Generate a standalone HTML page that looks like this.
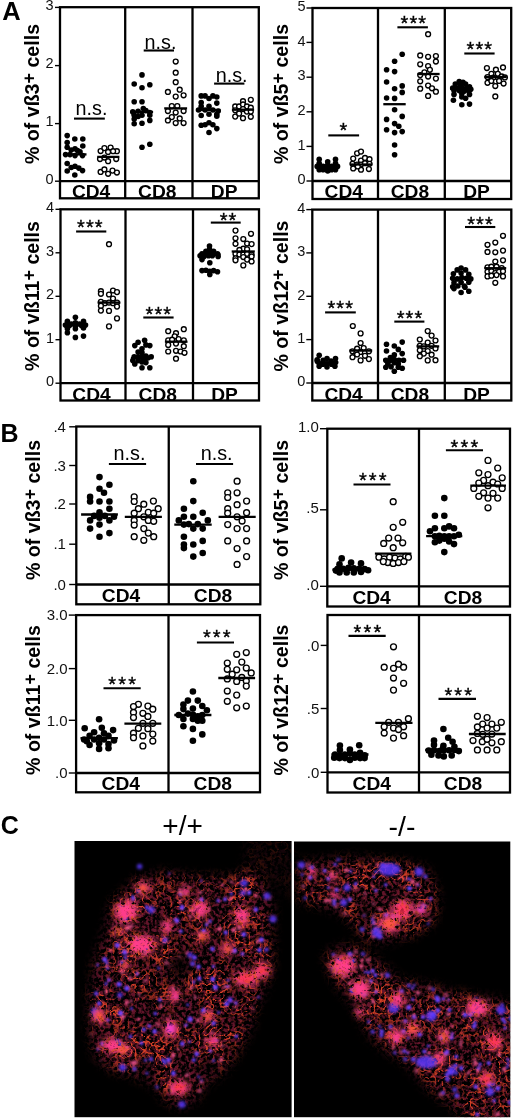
<!DOCTYPE html><html><head><meta charset="utf-8"><style>html,body{margin:0;padding:0;background:#fff;overflow:hidden}svg{display:block;will-change:transform}</style></head><body><svg width="520" height="1119" viewBox="0 0 520 1119" font-family='"Liberation Sans", sans-serif'>
<rect width="520" height="1119" fill="#fff"/>
<circle cx="67.2" cy="135.6" r="2.8"/>
<circle cx="74.8" cy="139.0" r="2.8"/>
<circle cx="82.8" cy="139.0" r="2.8"/>
<circle cx="67.2" cy="142.5" r="2.8"/>
<circle cx="82.8" cy="146.0" r="2.8"/>
<circle cx="67.2" cy="147.2" r="2.8"/>
<circle cx="75.0" cy="148.8" r="2.8"/>
<circle cx="71.2" cy="150.0" r="2.8"/>
<circle cx="77.5" cy="150.6" r="2.8"/>
<circle cx="80.0" cy="151.9" r="2.8"/>
<circle cx="65.6" cy="154.6" r="2.8"/>
<circle cx="70.0" cy="154.6" r="2.8"/>
<circle cx="75.0" cy="155.6" r="2.8"/>
<circle cx="82.5" cy="155.6" r="2.8"/>
<circle cx="67.2" cy="163.5" r="2.8"/>
<circle cx="71.2" cy="167.5" r="2.8"/>
<circle cx="75.0" cy="166.2" r="2.8"/>
<circle cx="78.8" cy="168.1" r="2.8"/>
<circle cx="82.5" cy="170.6" r="2.8"/>
<circle cx="67.2" cy="171.0" r="2.8"/>
<circle cx="74.8" cy="175.0" r="2.8"/>
<line x1="63.5" y1="154.4" x2="86.5" y2="154.4" stroke="#000" stroke-width="2.3"/>
<circle cx="100.6" cy="151.0" r="2.45" fill="#fff" stroke="#000" stroke-width="1.35"/>
<circle cx="104.4" cy="148.1" r="2.45" fill="#fff" stroke="#000" stroke-width="1.35"/>
<circle cx="110.6" cy="147.5" r="2.45" fill="#fff" stroke="#000" stroke-width="1.35"/>
<circle cx="116.9" cy="151.2" r="2.45" fill="#fff" stroke="#000" stroke-width="1.35"/>
<circle cx="108.1" cy="151.9" r="2.45" fill="#fff" stroke="#000" stroke-width="1.35"/>
<circle cx="113.1" cy="151.2" r="2.45" fill="#fff" stroke="#000" stroke-width="1.35"/>
<circle cx="100.0" cy="159.0" r="2.45" fill="#fff" stroke="#000" stroke-width="1.35"/>
<circle cx="108.1" cy="161.2" r="2.45" fill="#fff" stroke="#000" stroke-width="1.35"/>
<circle cx="116.2" cy="159.0" r="2.45" fill="#fff" stroke="#000" stroke-width="1.35"/>
<circle cx="104.4" cy="157.5" r="2.45" fill="#fff" stroke="#000" stroke-width="1.35"/>
<circle cx="100.6" cy="171.9" r="2.45" fill="#fff" stroke="#000" stroke-width="1.35"/>
<circle cx="104.4" cy="169.4" r="2.45" fill="#fff" stroke="#000" stroke-width="1.35"/>
<circle cx="108.1" cy="173.8" r="2.45" fill="#fff" stroke="#000" stroke-width="1.35"/>
<circle cx="112.5" cy="170.6" r="2.45" fill="#fff" stroke="#000" stroke-width="1.35"/>
<circle cx="116.9" cy="172.5" r="2.45" fill="#fff" stroke="#000" stroke-width="1.35"/>
<line x1="97.2" y1="156.9" x2="119.4" y2="156.9" stroke="#000" stroke-width="2.3"/>
<circle cx="142.0" cy="74.9" r="2.8"/>
<circle cx="134.2" cy="84.0" r="2.8"/>
<circle cx="149.8" cy="84.8" r="2.8"/>
<circle cx="142.0" cy="87.7" r="2.8"/>
<circle cx="134.2" cy="101.8" r="2.8"/>
<circle cx="142.0" cy="101.8" r="2.8"/>
<circle cx="143.3" cy="108.6" r="2.8"/>
<circle cx="132.8" cy="111.9" r="2.8"/>
<circle cx="138.1" cy="111.2" r="2.8"/>
<circle cx="149.8" cy="112.5" r="2.8"/>
<circle cx="134.2" cy="115.2" r="2.8"/>
<circle cx="142.0" cy="115.2" r="2.8"/>
<circle cx="149.8" cy="115.2" r="2.8"/>
<circle cx="134.2" cy="119.1" r="2.8"/>
<circle cx="149.8" cy="120.4" r="2.8"/>
<circle cx="134.2" cy="123.7" r="2.8"/>
<circle cx="142.0" cy="123.3" r="2.8"/>
<circle cx="142.0" cy="147.2" r="2.8"/>
<circle cx="149.8" cy="144.3" r="2.8"/>
<circle cx="145.9" cy="110.6" r="2.8"/>
<circle cx="138.1" cy="116.5" r="2.8"/>
<line x1="130.2" y1="111.9" x2="153.1" y2="111.9" stroke="#000" stroke-width="2.3"/>
<circle cx="175.7" cy="61.5" r="2.45" fill="#fff" stroke="#000" stroke-width="1.35"/>
<circle cx="175.7" cy="72.7" r="2.45" fill="#fff" stroke="#000" stroke-width="1.35"/>
<circle cx="175.7" cy="82.2" r="2.45" fill="#fff" stroke="#000" stroke-width="1.35"/>
<circle cx="167.9" cy="91.9" r="2.45" fill="#fff" stroke="#000" stroke-width="1.35"/>
<circle cx="179.7" cy="89.7" r="2.45" fill="#fff" stroke="#000" stroke-width="1.35"/>
<circle cx="183.6" cy="95.3" r="2.45" fill="#fff" stroke="#000" stroke-width="1.35"/>
<circle cx="175.7" cy="96.6" r="2.45" fill="#fff" stroke="#000" stroke-width="1.35"/>
<circle cx="171.8" cy="106.0" r="2.45" fill="#fff" stroke="#000" stroke-width="1.35"/>
<circle cx="177.3" cy="106.0" r="2.45" fill="#fff" stroke="#000" stroke-width="1.35"/>
<circle cx="167.9" cy="111.0" r="2.45" fill="#fff" stroke="#000" stroke-width="1.35"/>
<circle cx="175.7" cy="112.5" r="2.45" fill="#fff" stroke="#000" stroke-width="1.35"/>
<circle cx="183.6" cy="111.0" r="2.45" fill="#fff" stroke="#000" stroke-width="1.35"/>
<circle cx="171.8" cy="117.1" r="2.45" fill="#fff" stroke="#000" stroke-width="1.35"/>
<circle cx="179.7" cy="118.4" r="2.45" fill="#fff" stroke="#000" stroke-width="1.35"/>
<circle cx="167.9" cy="120.4" r="2.45" fill="#fff" stroke="#000" stroke-width="1.35"/>
<circle cx="175.7" cy="123.0" r="2.45" fill="#fff" stroke="#000" stroke-width="1.35"/>
<circle cx="183.6" cy="123.0" r="2.45" fill="#fff" stroke="#000" stroke-width="1.35"/>
<line x1="164.2" y1="108.4" x2="187.1" y2="108.4" stroke="#000" stroke-width="2.3"/>
<circle cx="201.2" cy="95.9" r="2.8"/>
<circle cx="205.1" cy="95.9" r="2.8"/>
<circle cx="209.0" cy="98.5" r="2.8"/>
<circle cx="212.9" cy="95.9" r="2.8"/>
<circle cx="216.8" cy="97.0" r="2.8"/>
<circle cx="201.2" cy="102.5" r="2.8"/>
<circle cx="216.8" cy="103.1" r="2.8"/>
<circle cx="201.2" cy="106.4" r="2.8"/>
<circle cx="209.0" cy="106.4" r="2.8"/>
<circle cx="198.5" cy="110.0" r="2.8"/>
<circle cx="205.1" cy="110.0" r="2.8"/>
<circle cx="212.9" cy="110.0" r="2.8"/>
<circle cx="218.2" cy="111.0" r="2.8"/>
<circle cx="201.2" cy="115.5" r="2.8"/>
<circle cx="209.0" cy="114.2" r="2.8"/>
<circle cx="216.8" cy="114.2" r="2.8"/>
<circle cx="216.8" cy="116.2" r="2.8"/>
<circle cx="201.2" cy="125.3" r="2.8"/>
<circle cx="205.1" cy="124.7" r="2.8"/>
<circle cx="209.0" cy="122.7" r="2.8"/>
<circle cx="212.9" cy="124.7" r="2.8"/>
<circle cx="216.8" cy="128.6" r="2.8"/>
<circle cx="209.0" cy="132.5" r="2.8"/>
<line x1="197.9" y1="110.0" x2="220.5" y2="110.0" stroke="#000" stroke-width="2.3"/>
<circle cx="243.0" cy="101.2" r="2.45" fill="#fff" stroke="#000" stroke-width="1.35"/>
<circle cx="250.8" cy="99.8" r="2.45" fill="#fff" stroke="#000" stroke-width="1.35"/>
<circle cx="235.2" cy="106.4" r="2.45" fill="#fff" stroke="#000" stroke-width="1.35"/>
<circle cx="239.1" cy="106.4" r="2.45" fill="#fff" stroke="#000" stroke-width="1.35"/>
<circle cx="243.0" cy="104.4" r="2.45" fill="#fff" stroke="#000" stroke-width="1.35"/>
<circle cx="246.9" cy="106.4" r="2.45" fill="#fff" stroke="#000" stroke-width="1.35"/>
<circle cx="250.8" cy="107.7" r="2.45" fill="#fff" stroke="#000" stroke-width="1.35"/>
<circle cx="235.2" cy="110.3" r="2.45" fill="#fff" stroke="#000" stroke-width="1.35"/>
<circle cx="243.0" cy="109.0" r="2.45" fill="#fff" stroke="#000" stroke-width="1.35"/>
<circle cx="246.9" cy="111.6" r="2.45" fill="#fff" stroke="#000" stroke-width="1.35"/>
<circle cx="250.8" cy="111.6" r="2.45" fill="#fff" stroke="#000" stroke-width="1.35"/>
<circle cx="235.2" cy="116.6" r="2.45" fill="#fff" stroke="#000" stroke-width="1.35"/>
<circle cx="243.0" cy="118.2" r="2.45" fill="#fff" stroke="#000" stroke-width="1.35"/>
<circle cx="250.8" cy="116.8" r="2.45" fill="#fff" stroke="#000" stroke-width="1.35"/>
<circle cx="239.1" cy="113.6" r="2.45" fill="#fff" stroke="#000" stroke-width="1.35"/>
<line x1="231.9" y1="109.7" x2="254.1" y2="109.7" stroke="#000" stroke-width="2.3"/>
<rect x="60" y="7.2" width="198.80" height="191.10" fill="none" stroke="#000" stroke-width="2.3"/>
<line x1="60" y1="181.2" x2="258.8" y2="181.2" stroke="#000" stroke-width="2.3"/>
<line x1="125.2" y1="7.2" x2="125.2" y2="198.3" stroke="#000" stroke-width="2.3"/>
<line x1="192.5" y1="7.2" x2="192.5" y2="198.3" stroke="#000" stroke-width="2.3"/>
<line x1="55" y1="181.2" x2="60" y2="181.2" stroke="#000" stroke-width="1.4"/>
<text x="53.6" y="183.8" font-size="14.5" text-anchor="end" fill="#111">0</text>
<line x1="55" y1="123.6" x2="60" y2="123.6" stroke="#000" stroke-width="1.4"/>
<text x="53.6" y="126.2" font-size="14.5" text-anchor="end" fill="#111">1</text>
<line x1="55" y1="65.6" x2="60" y2="65.6" stroke="#000" stroke-width="1.4"/>
<text x="53.6" y="68.2" font-size="14.5" text-anchor="end" fill="#111">2</text>
<line x1="55" y1="7.4" x2="60" y2="7.4" stroke="#000" stroke-width="1.4"/>
<text x="53.6" y="10.0" font-size="14.5" text-anchor="end" fill="#111">3</text>
<text x="91.1" y="197.9" font-size="19.2" font-weight="bold" text-anchor="middle">CD4</text>
<text x="157.3" y="197.9" font-size="19.2" font-weight="bold" text-anchor="middle">CD8</text>
<text x="224.2" y="197.9" font-size="19.2" font-weight="bold" text-anchor="middle">DP</text>
<text transform="translate(39,94) rotate(-90)" font-size="19.6" font-weight="bold" text-anchor="middle">% of vß3<tspan dy="-4.3" font-size="18.0">+</tspan><tspan dy="4.3"> cells</tspan></text>
<text x="75.6" y="115.1" font-size="19.8">n.s.</text>
<line x1="74" y1="118.6" x2="104.8" y2="118.6" stroke="#000" stroke-width="2.1"/>
<text x="144.5" y="49.0" font-size="19.8">n.s.</text>
<line x1="143.7" y1="50.5" x2="174" y2="50.5" stroke="#000" stroke-width="2.1"/>
<text x="215.7" y="81.8" font-size="19.8">n.s.</text>
<line x1="214.1" y1="83.6" x2="244.4" y2="83.6" stroke="#000" stroke-width="2.1"/>
<circle cx="319.2" cy="159.2" r="2.8"/>
<circle cx="319.2" cy="163.2" r="2.8"/>
<circle cx="319.2" cy="166.4" r="2.8"/>
<circle cx="319.2" cy="169.7" r="2.8"/>
<circle cx="317.2" cy="166.4" r="2.8"/>
<circle cx="323.1" cy="166.4" r="2.8"/>
<circle cx="323.1" cy="169.7" r="2.8"/>
<circle cx="327.7" cy="161.8" r="2.8"/>
<circle cx="327.7" cy="165.1" r="2.8"/>
<circle cx="327.7" cy="168.4" r="2.8"/>
<circle cx="327.7" cy="171.0" r="2.8"/>
<circle cx="331.6" cy="166.4" r="2.8"/>
<circle cx="331.6" cy="169.7" r="2.8"/>
<circle cx="335.5" cy="159.2" r="2.8"/>
<circle cx="335.5" cy="163.2" r="2.8"/>
<circle cx="335.5" cy="166.4" r="2.8"/>
<circle cx="335.5" cy="169.7" r="2.8"/>
<circle cx="337.5" cy="166.4" r="2.8"/>
<line x1="315.9" y1="166.4" x2="338.8" y2="166.4" stroke="#000" stroke-width="2.3"/>
<circle cx="357.1" cy="153.3" r="2.45" fill="#fff" stroke="#000" stroke-width="1.35"/>
<circle cx="361.0" cy="151.6" r="2.45" fill="#fff" stroke="#000" stroke-width="1.35"/>
<circle cx="353.2" cy="158.6" r="2.45" fill="#fff" stroke="#000" stroke-width="1.35"/>
<circle cx="361.0" cy="160.5" r="2.45" fill="#fff" stroke="#000" stroke-width="1.35"/>
<circle cx="365.0" cy="157.9" r="2.45" fill="#fff" stroke="#000" stroke-width="1.35"/>
<circle cx="369.5" cy="159.2" r="2.45" fill="#fff" stroke="#000" stroke-width="1.35"/>
<circle cx="352.5" cy="163.8" r="2.45" fill="#fff" stroke="#000" stroke-width="1.35"/>
<circle cx="357.1" cy="164.5" r="2.45" fill="#fff" stroke="#000" stroke-width="1.35"/>
<circle cx="361.0" cy="164.5" r="2.45" fill="#fff" stroke="#000" stroke-width="1.35"/>
<circle cx="365.0" cy="163.2" r="2.45" fill="#fff" stroke="#000" stroke-width="1.35"/>
<circle cx="369.5" cy="163.8" r="2.45" fill="#fff" stroke="#000" stroke-width="1.35"/>
<circle cx="353.2" cy="168.4" r="2.45" fill="#fff" stroke="#000" stroke-width="1.35"/>
<circle cx="361.0" cy="169.7" r="2.45" fill="#fff" stroke="#000" stroke-width="1.35"/>
<circle cx="368.9" cy="169.0" r="2.45" fill="#fff" stroke="#000" stroke-width="1.35"/>
<circle cx="357.8" cy="166.4" r="2.45" fill="#fff" stroke="#000" stroke-width="1.35"/>
<line x1="349.9" y1="164.5" x2="372.4" y2="164.5" stroke="#000" stroke-width="2.3"/>
<circle cx="402.2" cy="54.3" r="2.8"/>
<circle cx="394.6" cy="61.2" r="2.8"/>
<circle cx="386.6" cy="69.8" r="2.8"/>
<circle cx="394.6" cy="71.6" r="2.8"/>
<circle cx="386.6" cy="82.0" r="2.8"/>
<circle cx="402.2" cy="85.9" r="2.8"/>
<circle cx="394.6" cy="88.7" r="2.8"/>
<circle cx="402.2" cy="92.4" r="2.8"/>
<circle cx="386.6" cy="98.0" r="2.8"/>
<circle cx="394.6" cy="98.4" r="2.8"/>
<circle cx="394.6" cy="109.7" r="2.8"/>
<circle cx="402.2" cy="116.4" r="2.8"/>
<circle cx="386.6" cy="119.4" r="2.8"/>
<circle cx="394.6" cy="123.6" r="2.8"/>
<circle cx="398.8" cy="126.3" r="2.8"/>
<circle cx="386.6" cy="129.8" r="2.8"/>
<circle cx="394.6" cy="132.6" r="2.8"/>
<circle cx="402.2" cy="131.6" r="2.8"/>
<circle cx="394.6" cy="145.0" r="2.8"/>
<circle cx="394.6" cy="154.7" r="2.8"/>
<line x1="383.3" y1="104.2" x2="405.7" y2="104.2" stroke="#000" stroke-width="2.3"/>
<circle cx="428.1" cy="34.2" r="2.45" fill="#fff" stroke="#000" stroke-width="1.35"/>
<circle cx="420.2" cy="55.4" r="2.45" fill="#fff" stroke="#000" stroke-width="1.35"/>
<circle cx="428.1" cy="56.8" r="2.45" fill="#fff" stroke="#000" stroke-width="1.35"/>
<circle cx="435.9" cy="56.0" r="2.45" fill="#fff" stroke="#000" stroke-width="1.35"/>
<circle cx="435.9" cy="61.5" r="2.45" fill="#fff" stroke="#000" stroke-width="1.35"/>
<circle cx="420.2" cy="64.3" r="2.45" fill="#fff" stroke="#000" stroke-width="1.35"/>
<circle cx="428.1" cy="66.1" r="2.45" fill="#fff" stroke="#000" stroke-width="1.35"/>
<circle cx="429.9" cy="69.8" r="2.45" fill="#fff" stroke="#000" stroke-width="1.35"/>
<circle cx="424.4" cy="72.3" r="2.45" fill="#fff" stroke="#000" stroke-width="1.35"/>
<circle cx="420.2" cy="75.1" r="2.45" fill="#fff" stroke="#000" stroke-width="1.35"/>
<circle cx="428.1" cy="76.5" r="2.45" fill="#fff" stroke="#000" stroke-width="1.35"/>
<circle cx="435.9" cy="78.6" r="2.45" fill="#fff" stroke="#000" stroke-width="1.35"/>
<circle cx="420.2" cy="81.3" r="2.45" fill="#fff" stroke="#000" stroke-width="1.35"/>
<circle cx="428.1" cy="85.5" r="2.45" fill="#fff" stroke="#000" stroke-width="1.35"/>
<circle cx="432.0" cy="88.3" r="2.45" fill="#fff" stroke="#000" stroke-width="1.35"/>
<circle cx="420.2" cy="88.7" r="2.45" fill="#fff" stroke="#000" stroke-width="1.35"/>
<circle cx="435.9" cy="91.7" r="2.45" fill="#fff" stroke="#000" stroke-width="1.35"/>
<circle cx="428.1" cy="95.9" r="2.45" fill="#fff" stroke="#000" stroke-width="1.35"/>
<line x1="417.5" y1="74.0" x2="439.6" y2="74.0" stroke="#000" stroke-width="2.3"/>
<circle cx="459.2" cy="81.5" r="2.8"/>
<circle cx="463.0" cy="82.2" r="2.8"/>
<circle cx="455.3" cy="84.1" r="2.8"/>
<circle cx="460.5" cy="84.8" r="2.8"/>
<circle cx="465.6" cy="84.1" r="2.8"/>
<circle cx="469.5" cy="86.7" r="2.8"/>
<circle cx="452.7" cy="88.0" r="2.8"/>
<circle cx="457.2" cy="88.0" r="2.8"/>
<circle cx="461.8" cy="87.3" r="2.8"/>
<circle cx="466.3" cy="88.6" r="2.8"/>
<circle cx="470.8" cy="89.3" r="2.8"/>
<circle cx="454.0" cy="90.6" r="2.8"/>
<circle cx="459.2" cy="90.6" r="2.8"/>
<circle cx="464.3" cy="91.2" r="2.8"/>
<circle cx="468.8" cy="90.6" r="2.8"/>
<circle cx="454.0" cy="94.4" r="2.8"/>
<circle cx="461.8" cy="93.8" r="2.8"/>
<circle cx="469.5" cy="94.4" r="2.8"/>
<circle cx="461.8" cy="97.0" r="2.8"/>
<circle cx="465.6" cy="98.3" r="2.8"/>
<circle cx="453.4" cy="100.2" r="2.8"/>
<circle cx="461.8" cy="104.7" r="2.8"/>
<circle cx="469.5" cy="104.1" r="2.8"/>
<line x1="450.2" y1="89.0" x2="472.7" y2="89.0" stroke="#000" stroke-width="2.3"/>
<circle cx="486.9" cy="68.0" r="2.45" fill="#fff" stroke="#000" stroke-width="1.35"/>
<circle cx="495.9" cy="69.7" r="2.45" fill="#fff" stroke="#000" stroke-width="1.35"/>
<circle cx="503.0" cy="67.4" r="2.45" fill="#fff" stroke="#000" stroke-width="1.35"/>
<circle cx="491.4" cy="73.8" r="2.45" fill="#fff" stroke="#000" stroke-width="1.35"/>
<circle cx="497.8" cy="73.8" r="2.45" fill="#fff" stroke="#000" stroke-width="1.35"/>
<circle cx="487.5" cy="77.0" r="2.45" fill="#fff" stroke="#000" stroke-width="1.35"/>
<circle cx="493.3" cy="77.7" r="2.45" fill="#fff" stroke="#000" stroke-width="1.35"/>
<circle cx="501.7" cy="76.4" r="2.45" fill="#fff" stroke="#000" stroke-width="1.35"/>
<circle cx="504.9" cy="77.4" r="2.45" fill="#fff" stroke="#000" stroke-width="1.35"/>
<circle cx="487.5" cy="82.8" r="2.45" fill="#fff" stroke="#000" stroke-width="1.35"/>
<circle cx="491.4" cy="80.9" r="2.45" fill="#fff" stroke="#000" stroke-width="1.35"/>
<circle cx="495.9" cy="81.5" r="2.45" fill="#fff" stroke="#000" stroke-width="1.35"/>
<circle cx="499.1" cy="80.9" r="2.45" fill="#fff" stroke="#000" stroke-width="1.35"/>
<circle cx="503.6" cy="83.5" r="2.45" fill="#fff" stroke="#000" stroke-width="1.35"/>
<circle cx="495.3" cy="86.0" r="2.45" fill="#fff" stroke="#000" stroke-width="1.35"/>
<circle cx="495.3" cy="96.4" r="2.45" fill="#fff" stroke="#000" stroke-width="1.35"/>
<line x1="484.3" y1="77.0" x2="506.8" y2="77.0" stroke="#000" stroke-width="2.3"/>
<rect x="312.5" y="8" width="198.70" height="191.00" fill="none" stroke="#000" stroke-width="2.3"/>
<line x1="312.5" y1="181" x2="511.2" y2="181" stroke="#000" stroke-width="2.3"/>
<line x1="378" y1="8" x2="378" y2="199" stroke="#000" stroke-width="2.3"/>
<line x1="444.8" y1="8" x2="444.8" y2="199" stroke="#000" stroke-width="2.3"/>
<line x1="306.5" y1="181" x2="312.5" y2="181" stroke="#000" stroke-width="1.4"/>
<text x="305.5" y="184.2" font-size="14.5" text-anchor="end" fill="#111">0</text>
<line x1="306.5" y1="146.4" x2="312.5" y2="146.4" stroke="#000" stroke-width="1.4"/>
<text x="305.5" y="149.6" font-size="14.5" text-anchor="end" fill="#111">1</text>
<line x1="306.5" y1="111.8" x2="312.5" y2="111.8" stroke="#000" stroke-width="1.4"/>
<text x="305.5" y="115.0" font-size="14.5" text-anchor="end" fill="#111">2</text>
<line x1="306.5" y1="77.2" x2="312.5" y2="77.2" stroke="#000" stroke-width="1.4"/>
<text x="305.5" y="80.4" font-size="14.5" text-anchor="end" fill="#111">3</text>
<line x1="306.5" y1="42.4" x2="312.5" y2="42.4" stroke="#000" stroke-width="1.4"/>
<text x="305.5" y="45.6" font-size="14.5" text-anchor="end" fill="#111">4</text>
<line x1="306.5" y1="8" x2="312.5" y2="8" stroke="#000" stroke-width="1.4"/>
<text x="305.5" y="11.2" font-size="14.5" text-anchor="end" fill="#111">5</text>
<text x="343.8" y="198.1" font-size="19.2" font-weight="bold" text-anchor="middle">CD4</text>
<text x="409.9" y="198.1" font-size="19.2" font-weight="bold" text-anchor="middle">CD8</text>
<text x="476.5" y="198.1" font-size="19.2" font-weight="bold" text-anchor="middle">DP</text>
<text transform="translate(288,94) rotate(-90)" font-size="19.6" font-weight="bold" text-anchor="middle">% of vß5<tspan dy="-4.3" font-size="18.0">+</tspan><tspan dy="4.3"> cells</tspan></text>
<text x="339.5" y="136.8" font-size="20" letter-spacing="1.1" stroke="#000" stroke-width="0.35">*</text>
<line x1="328.3" y1="135.4" x2="359.1" y2="135.4" stroke="#000" stroke-width="2.1"/>
<text x="400.6" y="29.9" font-size="20" letter-spacing="1.1" stroke="#000" stroke-width="0.35">***</text>
<line x1="397.4" y1="27.3" x2="427.9" y2="27.3" stroke="#000" stroke-width="2.1"/>
<text x="466.6" y="55.9" font-size="20" letter-spacing="1.1" stroke="#000" stroke-width="0.35">***</text>
<line x1="464.3" y1="53.5" x2="494.6" y2="53.5" stroke="#000" stroke-width="2.1"/>
<circle cx="75.4" cy="317.3" r="2.8"/>
<circle cx="67.4" cy="321.3" r="2.8"/>
<circle cx="83.5" cy="321.3" r="2.8"/>
<circle cx="71.4" cy="324.0" r="2.8"/>
<circle cx="75.4" cy="322.7" r="2.8"/>
<circle cx="79.5" cy="324.0" r="2.8"/>
<circle cx="65.4" cy="325.1" r="2.8"/>
<circle cx="69.4" cy="325.4" r="2.8"/>
<circle cx="75.4" cy="326.0" r="2.8"/>
<circle cx="81.5" cy="325.4" r="2.8"/>
<circle cx="85.5" cy="325.1" r="2.8"/>
<circle cx="67.4" cy="328.7" r="2.8"/>
<circle cx="75.4" cy="328.7" r="2.8"/>
<circle cx="83.5" cy="328.0" r="2.8"/>
<circle cx="67.4" cy="332.7" r="2.8"/>
<circle cx="75.4" cy="337.4" r="2.8"/>
<circle cx="83.5" cy="336.1" r="2.8"/>
<line x1="64.7" y1="325.1" x2="86.8" y2="325.1" stroke="#000" stroke-width="2.3"/>
<circle cx="109.0" cy="244.2" r="2.45" fill="#fff" stroke="#000" stroke-width="1.35"/>
<circle cx="100.9" cy="291.2" r="2.45" fill="#fff" stroke="#000" stroke-width="1.35"/>
<circle cx="113.0" cy="290.5" r="2.45" fill="#fff" stroke="#000" stroke-width="1.35"/>
<circle cx="117.0" cy="292.1" r="2.45" fill="#fff" stroke="#000" stroke-width="1.35"/>
<circle cx="109.0" cy="294.5" r="2.45" fill="#fff" stroke="#000" stroke-width="1.35"/>
<circle cx="100.9" cy="293.8" r="2.45" fill="#fff" stroke="#000" stroke-width="1.35"/>
<circle cx="113.0" cy="298.5" r="2.45" fill="#fff" stroke="#000" stroke-width="1.35"/>
<circle cx="100.9" cy="301.9" r="2.45" fill="#fff" stroke="#000" stroke-width="1.35"/>
<circle cx="104.9" cy="303.2" r="2.45" fill="#fff" stroke="#000" stroke-width="1.35"/>
<circle cx="109.0" cy="302.6" r="2.45" fill="#fff" stroke="#000" stroke-width="1.35"/>
<circle cx="113.0" cy="303.2" r="2.45" fill="#fff" stroke="#000" stroke-width="1.35"/>
<circle cx="117.0" cy="302.6" r="2.45" fill="#fff" stroke="#000" stroke-width="1.35"/>
<circle cx="100.9" cy="305.9" r="2.45" fill="#fff" stroke="#000" stroke-width="1.35"/>
<circle cx="117.0" cy="306.6" r="2.45" fill="#fff" stroke="#000" stroke-width="1.35"/>
<circle cx="100.9" cy="310.6" r="2.45" fill="#fff" stroke="#000" stroke-width="1.35"/>
<circle cx="109.0" cy="310.9" r="2.45" fill="#fff" stroke="#000" stroke-width="1.35"/>
<circle cx="117.0" cy="318.4" r="2.45" fill="#fff" stroke="#000" stroke-width="1.35"/>
<circle cx="109.0" cy="326.4" r="2.45" fill="#fff" stroke="#000" stroke-width="1.35"/>
<line x1="97.6" y1="302.6" x2="120.4" y2="302.6" stroke="#000" stroke-width="2.3"/>
<circle cx="144.6" cy="340.3" r="2.8"/>
<circle cx="138.1" cy="342.3" r="2.8"/>
<circle cx="134.8" cy="345.6" r="2.8"/>
<circle cx="149.8" cy="345.6" r="2.8"/>
<circle cx="145.9" cy="344.9" r="2.8"/>
<circle cx="142.0" cy="348.8" r="2.8"/>
<circle cx="138.1" cy="352.1" r="2.8"/>
<circle cx="142.0" cy="352.8" r="2.8"/>
<circle cx="134.2" cy="356.7" r="2.8"/>
<circle cx="138.1" cy="356.7" r="2.8"/>
<circle cx="142.0" cy="357.3" r="2.8"/>
<circle cx="145.9" cy="356.0" r="2.8"/>
<circle cx="151.2" cy="356.7" r="2.8"/>
<circle cx="132.8" cy="360.6" r="2.8"/>
<circle cx="138.1" cy="360.6" r="2.8"/>
<circle cx="144.6" cy="359.3" r="2.8"/>
<circle cx="147.9" cy="358.0" r="2.8"/>
<circle cx="134.8" cy="363.9" r="2.8"/>
<circle cx="142.0" cy="361.9" r="2.8"/>
<circle cx="145.9" cy="362.6" r="2.8"/>
<circle cx="142.0" cy="367.8" r="2.8"/>
<circle cx="149.8" cy="367.8" r="2.8"/>
<line x1="130.9" y1="358.0" x2="153.1" y2="358.0" stroke="#000" stroke-width="2.3"/>
<circle cx="168.2" cy="331.2" r="2.45" fill="#fff" stroke="#000" stroke-width="1.35"/>
<circle cx="183.8" cy="329.2" r="2.45" fill="#fff" stroke="#000" stroke-width="1.35"/>
<circle cx="176.0" cy="333.2" r="2.45" fill="#fff" stroke="#000" stroke-width="1.35"/>
<circle cx="174.7" cy="336.4" r="2.45" fill="#fff" stroke="#000" stroke-width="1.35"/>
<circle cx="168.2" cy="340.3" r="2.45" fill="#fff" stroke="#000" stroke-width="1.35"/>
<circle cx="172.1" cy="339.7" r="2.45" fill="#fff" stroke="#000" stroke-width="1.35"/>
<circle cx="178.6" cy="339.0" r="2.45" fill="#fff" stroke="#000" stroke-width="1.35"/>
<circle cx="183.8" cy="340.3" r="2.45" fill="#fff" stroke="#000" stroke-width="1.35"/>
<circle cx="168.2" cy="344.9" r="2.45" fill="#fff" stroke="#000" stroke-width="1.35"/>
<circle cx="176.0" cy="343.6" r="2.45" fill="#fff" stroke="#000" stroke-width="1.35"/>
<circle cx="183.8" cy="346.2" r="2.45" fill="#fff" stroke="#000" stroke-width="1.35"/>
<circle cx="168.2" cy="351.5" r="2.45" fill="#fff" stroke="#000" stroke-width="1.35"/>
<circle cx="176.0" cy="350.8" r="2.45" fill="#fff" stroke="#000" stroke-width="1.35"/>
<circle cx="180.6" cy="351.5" r="2.45" fill="#fff" stroke="#000" stroke-width="1.35"/>
<circle cx="184.5" cy="352.8" r="2.45" fill="#fff" stroke="#000" stroke-width="1.35"/>
<circle cx="176.0" cy="358.7" r="2.45" fill="#fff" stroke="#000" stroke-width="1.35"/>
<line x1="164.9" y1="341.7" x2="187.5" y2="341.7" stroke="#000" stroke-width="2.3"/>
<circle cx="209.5" cy="246.1" r="2.8"/>
<circle cx="209.5" cy="249.3" r="2.8"/>
<circle cx="205.9" cy="251.2" r="2.8"/>
<circle cx="213.6" cy="251.2" r="2.8"/>
<circle cx="202.0" cy="253.8" r="2.8"/>
<circle cx="205.9" cy="253.8" r="2.8"/>
<circle cx="209.8" cy="253.2" r="2.8"/>
<circle cx="213.6" cy="253.8" r="2.8"/>
<circle cx="217.5" cy="253.8" r="2.8"/>
<circle cx="200.1" cy="255.7" r="2.8"/>
<circle cx="204.0" cy="256.4" r="2.8"/>
<circle cx="208.5" cy="255.7" r="2.8"/>
<circle cx="212.3" cy="255.7" r="2.8"/>
<circle cx="218.1" cy="256.4" r="2.8"/>
<circle cx="202.0" cy="259.6" r="2.8"/>
<circle cx="209.8" cy="262.8" r="2.8"/>
<circle cx="202.0" cy="270.6" r="2.8"/>
<circle cx="205.9" cy="270.3" r="2.8"/>
<circle cx="209.8" cy="271.2" r="2.8"/>
<circle cx="213.6" cy="270.6" r="2.8"/>
<circle cx="217.5" cy="271.8" r="2.8"/>
<circle cx="209.8" cy="274.4" r="2.8"/>
<line x1="198.8" y1="254.5" x2="220.7" y2="254.5" stroke="#000" stroke-width="2.3"/>
<circle cx="235.5" cy="230.6" r="2.45" fill="#fff" stroke="#000" stroke-width="1.35"/>
<circle cx="251.0" cy="233.8" r="2.45" fill="#fff" stroke="#000" stroke-width="1.35"/>
<circle cx="235.5" cy="238.3" r="2.45" fill="#fff" stroke="#000" stroke-width="1.35"/>
<circle cx="243.3" cy="239.0" r="2.45" fill="#fff" stroke="#000" stroke-width="1.35"/>
<circle cx="235.5" cy="243.8" r="2.45" fill="#fff" stroke="#000" stroke-width="1.35"/>
<circle cx="247.1" cy="243.5" r="2.45" fill="#fff" stroke="#000" stroke-width="1.35"/>
<circle cx="251.6" cy="244.1" r="2.45" fill="#fff" stroke="#000" stroke-width="1.35"/>
<circle cx="243.3" cy="248.7" r="2.45" fill="#fff" stroke="#000" stroke-width="1.35"/>
<circle cx="239.4" cy="249.9" r="2.45" fill="#fff" stroke="#000" stroke-width="1.35"/>
<circle cx="247.1" cy="249.3" r="2.45" fill="#fff" stroke="#000" stroke-width="1.35"/>
<circle cx="235.5" cy="253.8" r="2.45" fill="#fff" stroke="#000" stroke-width="1.35"/>
<circle cx="239.4" cy="254.5" r="2.45" fill="#fff" stroke="#000" stroke-width="1.35"/>
<circle cx="243.3" cy="254.5" r="2.45" fill="#fff" stroke="#000" stroke-width="1.35"/>
<circle cx="247.1" cy="253.8" r="2.45" fill="#fff" stroke="#000" stroke-width="1.35"/>
<circle cx="251.6" cy="254.5" r="2.45" fill="#fff" stroke="#000" stroke-width="1.35"/>
<circle cx="235.5" cy="258.3" r="2.45" fill="#fff" stroke="#000" stroke-width="1.35"/>
<circle cx="243.3" cy="257.0" r="2.45" fill="#fff" stroke="#000" stroke-width="1.35"/>
<circle cx="251.6" cy="256.4" r="2.45" fill="#fff" stroke="#000" stroke-width="1.35"/>
<circle cx="247.1" cy="259.6" r="2.45" fill="#fff" stroke="#000" stroke-width="1.35"/>
<circle cx="251.6" cy="261.5" r="2.45" fill="#fff" stroke="#000" stroke-width="1.35"/>
<circle cx="243.3" cy="265.4" r="2.45" fill="#fff" stroke="#000" stroke-width="1.35"/>
<circle cx="235.5" cy="260.3" r="2.45" fill="#fff" stroke="#000" stroke-width="1.35"/>
<line x1="231.7" y1="251.5" x2="254.8" y2="251.5" stroke="#000" stroke-width="2.3"/>
<rect x="60.5" y="209.3" width="198.50" height="191.20" fill="none" stroke="#000" stroke-width="2.3"/>
<line x1="60.5" y1="383.2" x2="259" y2="383.2" stroke="#000" stroke-width="2.3"/>
<line x1="125.5" y1="209.3" x2="125.5" y2="400.5" stroke="#000" stroke-width="2.3"/>
<line x1="193" y1="209.3" x2="193" y2="400.5" stroke="#000" stroke-width="2.3"/>
<line x1="55.5" y1="383.2" x2="60.5" y2="383.2" stroke="#000" stroke-width="1.4"/>
<text x="54.1" y="386.0" font-size="14.5" text-anchor="end" fill="#111">0</text>
<line x1="55.5" y1="339.7" x2="60.5" y2="339.7" stroke="#000" stroke-width="1.4"/>
<text x="54.1" y="342.5" font-size="14.5" text-anchor="end" fill="#111">1</text>
<line x1="55.5" y1="296.3" x2="60.5" y2="296.3" stroke="#000" stroke-width="1.4"/>
<text x="54.1" y="299.1" font-size="14.5" text-anchor="end" fill="#111">2</text>
<line x1="55.5" y1="252.8" x2="60.5" y2="252.8" stroke="#000" stroke-width="1.4"/>
<text x="54.1" y="255.6" font-size="14.5" text-anchor="end" fill="#111">3</text>
<line x1="55.5" y1="209.3" x2="60.5" y2="209.3" stroke="#000" stroke-width="1.4"/>
<text x="54.1" y="212.1" font-size="14.5" text-anchor="end" fill="#111">4</text>
<text x="91.5" y="400.5" font-size="19.2" font-weight="bold" text-anchor="middle">CD4</text>
<text x="157.8" y="400.5" font-size="19.2" font-weight="bold" text-anchor="middle">CD8</text>
<text x="224.5" y="400.5" font-size="19.2" font-weight="bold" text-anchor="middle">DP</text>
<text transform="translate(39,296) rotate(-90)" font-size="19.6" font-weight="bold" text-anchor="middle">% of vß11<tspan dy="-4.3" font-size="18.0">+</tspan><tspan dy="4.3"> cells</tspan></text>
<text x="77.1" y="233.5" font-size="20" letter-spacing="1.1" stroke="#000" stroke-width="0.35">***</text>
<line x1="76.1" y1="231.5" x2="106.3" y2="231.5" stroke="#000" stroke-width="2.1"/>
<text x="145.6" y="320.7" font-size="20" letter-spacing="1.1" stroke="#000" stroke-width="0.35">***</text>
<line x1="143.3" y1="317.5" x2="173.6" y2="317.5" stroke="#000" stroke-width="2.1"/>
<text x="219.7" y="226.9" font-size="20" letter-spacing="1.1" stroke="#000" stroke-width="0.35">**</text>
<line x1="210.8" y1="222.6" x2="240.7" y2="222.6" stroke="#000" stroke-width="2.1"/>
<circle cx="319.2" cy="355.2" r="2.8"/>
<circle cx="317.2" cy="359.8" r="2.8"/>
<circle cx="323.1" cy="360.4" r="2.8"/>
<circle cx="327.0" cy="358.5" r="2.8"/>
<circle cx="331.0" cy="361.1" r="2.8"/>
<circle cx="335.5" cy="358.5" r="2.8"/>
<circle cx="319.2" cy="363.7" r="2.8"/>
<circle cx="323.1" cy="364.3" r="2.8"/>
<circle cx="327.0" cy="363.7" r="2.8"/>
<circle cx="331.6" cy="364.3" r="2.8"/>
<circle cx="335.5" cy="362.4" r="2.8"/>
<circle cx="319.2" cy="366.3" r="2.8"/>
<circle cx="327.0" cy="367.0" r="2.8"/>
<circle cx="334.9" cy="366.3" r="2.8"/>
<circle cx="317.2" cy="361.1" r="2.8"/>
<line x1="315.3" y1="362.4" x2="338.2" y2="362.4" stroke="#000" stroke-width="2.3"/>
<circle cx="352.8" cy="326.0" r="2.45" fill="#fff" stroke="#000" stroke-width="1.35"/>
<circle cx="360.6" cy="333.4" r="2.45" fill="#fff" stroke="#000" stroke-width="1.35"/>
<circle cx="360.6" cy="343.0" r="2.45" fill="#fff" stroke="#000" stroke-width="1.35"/>
<circle cx="357.1" cy="348.7" r="2.45" fill="#fff" stroke="#000" stroke-width="1.35"/>
<circle cx="363.7" cy="348.0" r="2.45" fill="#fff" stroke="#000" stroke-width="1.35"/>
<circle cx="352.5" cy="351.3" r="2.45" fill="#fff" stroke="#000" stroke-width="1.35"/>
<circle cx="356.5" cy="352.6" r="2.45" fill="#fff" stroke="#000" stroke-width="1.35"/>
<circle cx="360.6" cy="351.9" r="2.45" fill="#fff" stroke="#000" stroke-width="1.35"/>
<circle cx="365.0" cy="352.6" r="2.45" fill="#fff" stroke="#000" stroke-width="1.35"/>
<circle cx="368.9" cy="351.3" r="2.45" fill="#fff" stroke="#000" stroke-width="1.35"/>
<circle cx="352.5" cy="357.2" r="2.45" fill="#fff" stroke="#000" stroke-width="1.35"/>
<circle cx="357.1" cy="354.5" r="2.45" fill="#fff" stroke="#000" stroke-width="1.35"/>
<circle cx="360.6" cy="360.4" r="2.45" fill="#fff" stroke="#000" stroke-width="1.35"/>
<circle cx="365.0" cy="355.8" r="2.45" fill="#fff" stroke="#000" stroke-width="1.35"/>
<circle cx="368.9" cy="359.1" r="2.45" fill="#fff" stroke="#000" stroke-width="1.35"/>
<line x1="349.3" y1="350.6" x2="372.2" y2="350.6" stroke="#000" stroke-width="2.3"/>
<circle cx="386.5" cy="344.2" r="2.8"/>
<circle cx="402.2" cy="342.1" r="2.8"/>
<circle cx="394.3" cy="346.0" r="2.8"/>
<circle cx="398.3" cy="349.4" r="2.8"/>
<circle cx="386.5" cy="351.0" r="2.8"/>
<circle cx="402.2" cy="353.6" r="2.8"/>
<circle cx="394.3" cy="354.9" r="2.8"/>
<circle cx="390.4" cy="357.5" r="2.8"/>
<circle cx="385.8" cy="360.2" r="2.8"/>
<circle cx="389.8" cy="360.8" r="2.8"/>
<circle cx="394.3" cy="359.5" r="2.8"/>
<circle cx="398.9" cy="360.2" r="2.8"/>
<circle cx="403.5" cy="360.2" r="2.8"/>
<circle cx="387.8" cy="364.1" r="2.8"/>
<circle cx="394.3" cy="362.8" r="2.8"/>
<circle cx="398.3" cy="364.1" r="2.8"/>
<circle cx="385.8" cy="367.3" r="2.8"/>
<circle cx="391.1" cy="366.7" r="2.8"/>
<circle cx="398.3" cy="367.3" r="2.8"/>
<circle cx="402.2" cy="368.3" r="2.8"/>
<circle cx="394.3" cy="371.3" r="2.8"/>
<line x1="383.2" y1="359.9" x2="405.5" y2="359.9" stroke="#000" stroke-width="2.3"/>
<circle cx="427.7" cy="331.1" r="2.45" fill="#fff" stroke="#000" stroke-width="1.35"/>
<circle cx="431.6" cy="335.6" r="2.45" fill="#fff" stroke="#000" stroke-width="1.35"/>
<circle cx="419.8" cy="339.5" r="2.45" fill="#fff" stroke="#000" stroke-width="1.35"/>
<circle cx="435.5" cy="340.5" r="2.45" fill="#fff" stroke="#000" stroke-width="1.35"/>
<circle cx="427.7" cy="342.5" r="2.45" fill="#fff" stroke="#000" stroke-width="1.35"/>
<circle cx="419.8" cy="345.8" r="2.45" fill="#fff" stroke="#000" stroke-width="1.35"/>
<circle cx="423.8" cy="346.4" r="2.45" fill="#fff" stroke="#000" stroke-width="1.35"/>
<circle cx="431.6" cy="345.8" r="2.45" fill="#fff" stroke="#000" stroke-width="1.35"/>
<circle cx="435.5" cy="348.4" r="2.45" fill="#fff" stroke="#000" stroke-width="1.35"/>
<circle cx="419.8" cy="350.3" r="2.45" fill="#fff" stroke="#000" stroke-width="1.35"/>
<circle cx="427.7" cy="351.0" r="2.45" fill="#fff" stroke="#000" stroke-width="1.35"/>
<circle cx="423.8" cy="353.6" r="2.45" fill="#fff" stroke="#000" stroke-width="1.35"/>
<circle cx="431.6" cy="354.7" r="2.45" fill="#fff" stroke="#000" stroke-width="1.35"/>
<circle cx="419.8" cy="356.2" r="2.45" fill="#fff" stroke="#000" stroke-width="1.35"/>
<circle cx="427.7" cy="360.4" r="2.45" fill="#fff" stroke="#000" stroke-width="1.35"/>
<circle cx="435.5" cy="360.2" r="2.45" fill="#fff" stroke="#000" stroke-width="1.35"/>
<line x1="416.6" y1="346.4" x2="439.2" y2="346.4" stroke="#000" stroke-width="2.3"/>
<circle cx="461.1" cy="268.0" r="2.8"/>
<circle cx="457.2" cy="269.9" r="2.8"/>
<circle cx="465.6" cy="269.9" r="2.8"/>
<circle cx="453.4" cy="273.8" r="2.8"/>
<circle cx="461.1" cy="273.1" r="2.8"/>
<circle cx="468.8" cy="274.4" r="2.8"/>
<circle cx="452.7" cy="278.3" r="2.8"/>
<circle cx="457.2" cy="278.9" r="2.8"/>
<circle cx="461.8" cy="277.6" r="2.8"/>
<circle cx="466.3" cy="278.3" r="2.8"/>
<circle cx="470.8" cy="278.9" r="2.8"/>
<circle cx="454.0" cy="282.8" r="2.8"/>
<circle cx="461.1" cy="282.2" r="2.8"/>
<circle cx="468.8" cy="282.2" r="2.8"/>
<circle cx="452.7" cy="286.7" r="2.8"/>
<circle cx="457.9" cy="286.0" r="2.8"/>
<circle cx="464.3" cy="286.0" r="2.8"/>
<circle cx="454.0" cy="288.6" r="2.8"/>
<circle cx="461.1" cy="292.5" r="2.8"/>
<circle cx="468.8" cy="291.2" r="2.8"/>
<circle cx="465.0" cy="287.3" r="2.8"/>
<line x1="450.2" y1="278.3" x2="472.7" y2="278.3" stroke="#000" stroke-width="2.3"/>
<circle cx="503.0" cy="235.8" r="2.45" fill="#fff" stroke="#000" stroke-width="1.35"/>
<circle cx="487.5" cy="244.8" r="2.45" fill="#fff" stroke="#000" stroke-width="1.35"/>
<circle cx="495.3" cy="242.5" r="2.45" fill="#fff" stroke="#000" stroke-width="1.35"/>
<circle cx="487.5" cy="251.9" r="2.45" fill="#fff" stroke="#000" stroke-width="1.35"/>
<circle cx="495.3" cy="252.3" r="2.45" fill="#fff" stroke="#000" stroke-width="1.35"/>
<circle cx="503.0" cy="250.6" r="2.45" fill="#fff" stroke="#000" stroke-width="1.35"/>
<circle cx="495.3" cy="261.5" r="2.45" fill="#fff" stroke="#000" stroke-width="1.35"/>
<circle cx="503.0" cy="260.3" r="2.45" fill="#fff" stroke="#000" stroke-width="1.35"/>
<circle cx="487.5" cy="267.3" r="2.45" fill="#fff" stroke="#000" stroke-width="1.35"/>
<circle cx="491.4" cy="266.7" r="2.45" fill="#fff" stroke="#000" stroke-width="1.35"/>
<circle cx="496.5" cy="266.7" r="2.45" fill="#fff" stroke="#000" stroke-width="1.35"/>
<circle cx="501.7" cy="268.0" r="2.45" fill="#fff" stroke="#000" stroke-width="1.35"/>
<circle cx="487.5" cy="271.8" r="2.45" fill="#fff" stroke="#000" stroke-width="1.35"/>
<circle cx="491.4" cy="271.2" r="2.45" fill="#fff" stroke="#000" stroke-width="1.35"/>
<circle cx="495.3" cy="273.1" r="2.45" fill="#fff" stroke="#000" stroke-width="1.35"/>
<circle cx="499.1" cy="271.8" r="2.45" fill="#fff" stroke="#000" stroke-width="1.35"/>
<circle cx="503.0" cy="271.2" r="2.45" fill="#fff" stroke="#000" stroke-width="1.35"/>
<circle cx="487.5" cy="276.4" r="2.45" fill="#fff" stroke="#000" stroke-width="1.35"/>
<circle cx="491.4" cy="275.7" r="2.45" fill="#fff" stroke="#000" stroke-width="1.35"/>
<circle cx="496.5" cy="275.1" r="2.45" fill="#fff" stroke="#000" stroke-width="1.35"/>
<circle cx="503.0" cy="276.4" r="2.45" fill="#fff" stroke="#000" stroke-width="1.35"/>
<circle cx="495.3" cy="282.8" r="2.45" fill="#fff" stroke="#000" stroke-width="1.35"/>
<line x1="484.3" y1="268.2" x2="506.2" y2="268.2" stroke="#000" stroke-width="2.3"/>
<rect x="312.3" y="209.6" width="199.00" height="190.90" fill="none" stroke="#000" stroke-width="2.3"/>
<line x1="312.3" y1="383" x2="511.3" y2="383" stroke="#000" stroke-width="2.3"/>
<line x1="378" y1="209.6" x2="378" y2="400.5" stroke="#000" stroke-width="2.3"/>
<line x1="444.8" y1="209.6" x2="444.8" y2="400.5" stroke="#000" stroke-width="2.3"/>
<line x1="306.3" y1="383" x2="312.3" y2="383" stroke="#000" stroke-width="1.4"/>
<text x="305.3" y="386.2" font-size="14.5" text-anchor="end" fill="#111">0</text>
<line x1="306.3" y1="339.6" x2="312.3" y2="339.6" stroke="#000" stroke-width="1.4"/>
<text x="305.3" y="342.8" font-size="14.5" text-anchor="end" fill="#111">1</text>
<line x1="306.3" y1="296.3" x2="312.3" y2="296.3" stroke="#000" stroke-width="1.4"/>
<text x="305.3" y="299.5" font-size="14.5" text-anchor="end" fill="#111">2</text>
<line x1="306.3" y1="252.9" x2="312.3" y2="252.9" stroke="#000" stroke-width="1.4"/>
<text x="305.3" y="256.1" font-size="14.5" text-anchor="end" fill="#111">3</text>
<line x1="306.3" y1="209.6" x2="312.3" y2="209.6" stroke="#000" stroke-width="1.4"/>
<text x="305.3" y="212.8" font-size="14.5" text-anchor="end" fill="#111">4</text>
<text x="343.6" y="400.5" font-size="19.2" font-weight="bold" text-anchor="middle">CD4</text>
<text x="409.9" y="400.5" font-size="19.2" font-weight="bold" text-anchor="middle">CD8</text>
<text x="476.6" y="400.5" font-size="19.2" font-weight="bold" text-anchor="middle">DP</text>
<text transform="translate(288,296) rotate(-90)" font-size="19.6" font-weight="bold" text-anchor="middle">% of vß12<tspan dy="-4.3" font-size="18.0">+</tspan><tspan dy="4.3"> cells</tspan></text>
<text x="327.4" y="314.6" font-size="20" letter-spacing="1.1" stroke="#000" stroke-width="0.35">***</text>
<line x1="325.1" y1="312.4" x2="355.8" y2="312.4" stroke="#000" stroke-width="2.1"/>
<text x="396.7" y="324.8" font-size="20" letter-spacing="1.1" stroke="#000" stroke-width="0.35">***</text>
<line x1="394.3" y1="321.6" x2="424.4" y2="321.6" stroke="#000" stroke-width="2.1"/>
<text x="467.2" y="230.7" font-size="20" letter-spacing="1.1" stroke="#000" stroke-width="0.35">***</text>
<line x1="465" y1="227" x2="495.3" y2="227" stroke="#000" stroke-width="2.1"/>
<circle cx="99.5" cy="477.1" r="3.3"/>
<circle cx="109.4" cy="484.8" r="3.3"/>
<circle cx="99.5" cy="488.8" r="3.3"/>
<circle cx="104.0" cy="492.8" r="3.3"/>
<circle cx="90.1" cy="496.9" r="3.3"/>
<circle cx="90.1" cy="501.5" r="3.3"/>
<circle cx="99.5" cy="501.5" r="3.3"/>
<circle cx="109.4" cy="501.5" r="3.3"/>
<circle cx="109.4" cy="508.7" r="3.3"/>
<circle cx="99.5" cy="512.3" r="3.3"/>
<circle cx="94.1" cy="515.9" r="3.3"/>
<circle cx="104.9" cy="515.9" r="3.3"/>
<circle cx="114.0" cy="516.8" r="3.3"/>
<circle cx="90.1" cy="520.4" r="3.3"/>
<circle cx="99.5" cy="517.7" r="3.3"/>
<circle cx="109.4" cy="520.4" r="3.3"/>
<circle cx="99.5" cy="524.6" r="3.3"/>
<circle cx="90.1" cy="528.6" r="3.3"/>
<circle cx="109.4" cy="533.1" r="3.3"/>
<circle cx="99.5" cy="536.7" r="3.3"/>
<line x1="81.1" y1="514.5" x2="117.9" y2="514.5" stroke="#000" stroke-width="2.3"/>
<circle cx="134.2" cy="496.9" r="2.95" fill="#fff" stroke="#000" stroke-width="1.35"/>
<circle cx="134.2" cy="501.5" r="2.95" fill="#fff" stroke="#000" stroke-width="1.35"/>
<circle cx="153.4" cy="501.1" r="2.95" fill="#fff" stroke="#000" stroke-width="1.35"/>
<circle cx="143.8" cy="504.2" r="2.95" fill="#fff" stroke="#000" stroke-width="1.35"/>
<circle cx="138.4" cy="508.7" r="2.95" fill="#fff" stroke="#000" stroke-width="1.35"/>
<circle cx="158.2" cy="508.7" r="2.95" fill="#fff" stroke="#000" stroke-width="1.35"/>
<circle cx="134.2" cy="513.2" r="2.95" fill="#fff" stroke="#000" stroke-width="1.35"/>
<circle cx="148.3" cy="512.3" r="2.95" fill="#fff" stroke="#000" stroke-width="1.35"/>
<circle cx="153.7" cy="513.2" r="2.95" fill="#fff" stroke="#000" stroke-width="1.35"/>
<circle cx="143.8" cy="516.8" r="2.95" fill="#fff" stroke="#000" stroke-width="1.35"/>
<circle cx="134.2" cy="520.4" r="2.95" fill="#fff" stroke="#000" stroke-width="1.35"/>
<circle cx="148.3" cy="520.4" r="2.95" fill="#fff" stroke="#000" stroke-width="1.35"/>
<circle cx="153.7" cy="521.3" r="2.95" fill="#fff" stroke="#000" stroke-width="1.35"/>
<circle cx="134.2" cy="525.0" r="2.95" fill="#fff" stroke="#000" stroke-width="1.35"/>
<circle cx="143.8" cy="528.6" r="2.95" fill="#fff" stroke="#000" stroke-width="1.35"/>
<circle cx="148.3" cy="533.1" r="2.95" fill="#fff" stroke="#000" stroke-width="1.35"/>
<circle cx="134.2" cy="536.7" r="2.95" fill="#fff" stroke="#000" stroke-width="1.35"/>
<circle cx="153.7" cy="536.7" r="2.95" fill="#fff" stroke="#000" stroke-width="1.35"/>
<circle cx="143.8" cy="540.3" r="2.95" fill="#fff" stroke="#000" stroke-width="1.35"/>
<line x1="124.8" y1="516.8" x2="161.9" y2="516.8" stroke="#000" stroke-width="2.3"/>
<circle cx="193.3" cy="481.2" r="3.3"/>
<circle cx="193.3" cy="501.1" r="3.3"/>
<circle cx="183.9" cy="508.7" r="3.3"/>
<circle cx="183.9" cy="516.8" r="3.3"/>
<circle cx="193.3" cy="516.8" r="3.3"/>
<circle cx="202.7" cy="512.7" r="3.3"/>
<circle cx="178.8" cy="520.4" r="3.3"/>
<circle cx="207.8" cy="520.4" r="3.3"/>
<circle cx="183.9" cy="524.6" r="3.3"/>
<circle cx="188.8" cy="524.1" r="3.3"/>
<circle cx="193.3" cy="528.6" r="3.3"/>
<circle cx="197.8" cy="524.1" r="3.3"/>
<circle cx="202.7" cy="528.6" r="3.3"/>
<circle cx="183.9" cy="536.7" r="3.3"/>
<circle cx="193.3" cy="544.5" r="3.3"/>
<circle cx="202.7" cy="540.9" r="3.3"/>
<circle cx="183.9" cy="544.5" r="3.3"/>
<circle cx="183.9" cy="548.1" r="3.3"/>
<circle cx="202.7" cy="553.0" r="3.3"/>
<circle cx="193.3" cy="556.6" r="3.3"/>
<line x1="174.3" y1="524.6" x2="211.7" y2="524.6" stroke="#000" stroke-width="2.3"/>
<circle cx="237.1" cy="481.2" r="2.95" fill="#fff" stroke="#000" stroke-width="1.35"/>
<circle cx="227.7" cy="492.8" r="2.95" fill="#fff" stroke="#000" stroke-width="1.35"/>
<circle cx="237.1" cy="492.8" r="2.95" fill="#fff" stroke="#000" stroke-width="1.35"/>
<circle cx="227.7" cy="497.5" r="2.95" fill="#fff" stroke="#000" stroke-width="1.35"/>
<circle cx="246.6" cy="501.1" r="2.95" fill="#fff" stroke="#000" stroke-width="1.35"/>
<circle cx="237.1" cy="504.7" r="2.95" fill="#fff" stroke="#000" stroke-width="1.35"/>
<circle cx="227.7" cy="508.7" r="2.95" fill="#fff" stroke="#000" stroke-width="1.35"/>
<circle cx="227.7" cy="513.2" r="2.95" fill="#fff" stroke="#000" stroke-width="1.35"/>
<circle cx="246.6" cy="512.7" r="2.95" fill="#fff" stroke="#000" stroke-width="1.35"/>
<circle cx="237.1" cy="516.8" r="2.95" fill="#fff" stroke="#000" stroke-width="1.35"/>
<circle cx="242.1" cy="521.0" r="2.95" fill="#fff" stroke="#000" stroke-width="1.35"/>
<circle cx="227.7" cy="524.6" r="2.95" fill="#fff" stroke="#000" stroke-width="1.35"/>
<circle cx="237.1" cy="528.6" r="2.95" fill="#fff" stroke="#000" stroke-width="1.35"/>
<circle cx="246.6" cy="528.6" r="2.95" fill="#fff" stroke="#000" stroke-width="1.35"/>
<circle cx="227.7" cy="540.9" r="2.95" fill="#fff" stroke="#000" stroke-width="1.35"/>
<circle cx="246.6" cy="540.9" r="2.95" fill="#fff" stroke="#000" stroke-width="1.35"/>
<circle cx="237.1" cy="548.5" r="2.95" fill="#fff" stroke="#000" stroke-width="1.35"/>
<circle cx="246.6" cy="556.6" r="2.95" fill="#fff" stroke="#000" stroke-width="1.35"/>
<circle cx="237.1" cy="564.4" r="2.95" fill="#fff" stroke="#000" stroke-width="1.35"/>
<line x1="218.6" y1="516.8" x2="255.7" y2="516.8" stroke="#000" stroke-width="2.3"/>
<rect x="76.3" y="426.5" width="184.00" height="177.80" fill="none" stroke="#000" stroke-width="2.3"/>
<line x1="76.3" y1="584.5" x2="260.3" y2="584.5" stroke="#000" stroke-width="2.3"/>
<line x1="168.75" y1="426.5" x2="168.75" y2="604.3" stroke="#000" stroke-width="2.3"/>
<line x1="69.2" y1="584.5" x2="76.3" y2="584.5" stroke="#000" stroke-width="1.4"/>
<text x="65.9" y="589.7" font-size="15" text-anchor="end" fill="#111">.0</text>
<line x1="69.2" y1="544.2" x2="76.3" y2="544.2" stroke="#000" stroke-width="1.4"/>
<text x="65.9" y="549.4" font-size="15" text-anchor="end" fill="#111">.1</text>
<line x1="69.2" y1="504" x2="76.3" y2="504" stroke="#000" stroke-width="1.4"/>
<text x="65.9" y="509.2" font-size="15" text-anchor="end" fill="#111">.2</text>
<line x1="69.2" y1="465.5" x2="76.3" y2="465.5" stroke="#000" stroke-width="1.4"/>
<text x="65.9" y="470.7" font-size="15" text-anchor="end" fill="#111">.3</text>
<line x1="69.2" y1="426.8" x2="76.3" y2="426.8" stroke="#000" stroke-width="1.4"/>
<text x="65.9" y="432.0" font-size="15" text-anchor="end" fill="#111">.4</text>
<text x="121.0" y="602.0" font-size="19.2" font-weight="bold" text-anchor="middle">CD4</text>
<text x="213.0" y="602.0" font-size="19.2" font-weight="bold" text-anchor="middle">CD8</text>
<text transform="translate(40,510) rotate(-90)" font-size="19.6" font-weight="bold" text-anchor="middle">% of vß3<tspan dy="-4.3" font-size="18.0">+</tspan><tspan dy="4.3"> cells</tspan></text>
<text x="113.6" y="459.5" font-size="19.8">n.s.</text>
<line x1="108.9" y1="464" x2="146.1" y2="464" stroke="#000" stroke-width="2.1"/>
<text x="200.7" y="459.5" font-size="19.8">n.s.</text>
<line x1="196" y1="464" x2="233.1" y2="464" stroke="#000" stroke-width="2.1"/>
<circle cx="341.7" cy="558.4" r="3.3"/>
<circle cx="339.5" cy="564.3" r="3.3"/>
<circle cx="351.1" cy="562.5" r="3.3"/>
<circle cx="361.0" cy="563.4" r="3.3"/>
<circle cx="337.7" cy="568.8" r="3.3"/>
<circle cx="343.1" cy="568.8" r="3.3"/>
<circle cx="348.5" cy="567.9" r="3.3"/>
<circle cx="353.8" cy="568.4" r="3.3"/>
<circle cx="359.2" cy="568.8" r="3.3"/>
<circle cx="364.6" cy="569.1" r="3.3"/>
<circle cx="339.5" cy="572.4" r="3.3"/>
<circle cx="346.7" cy="572.4" r="3.3"/>
<circle cx="353.8" cy="572.4" r="3.3"/>
<circle cx="361.0" cy="572.0" r="3.3"/>
<circle cx="335.9" cy="570.6" r="3.3"/>
<circle cx="368.1" cy="570.2" r="3.3"/>
<line x1="332.4" y1="569.7" x2="369.9" y2="569.7" stroke="#000" stroke-width="2.3"/>
<circle cx="393.2" cy="501.7" r="2.95" fill="#fff" stroke="#000" stroke-width="1.35"/>
<circle cx="402.7" cy="522.3" r="2.95" fill="#fff" stroke="#000" stroke-width="1.35"/>
<circle cx="393.2" cy="527.3" r="2.95" fill="#fff" stroke="#000" stroke-width="1.35"/>
<circle cx="388.7" cy="538.0" r="2.95" fill="#fff" stroke="#000" stroke-width="1.35"/>
<circle cx="398.0" cy="538.0" r="2.95" fill="#fff" stroke="#000" stroke-width="1.35"/>
<circle cx="383.7" cy="543.4" r="2.95" fill="#fff" stroke="#000" stroke-width="1.35"/>
<circle cx="402.7" cy="542.8" r="2.95" fill="#fff" stroke="#000" stroke-width="1.35"/>
<circle cx="393.2" cy="547.7" r="2.95" fill="#fff" stroke="#000" stroke-width="1.35"/>
<circle cx="378.9" cy="557.2" r="2.95" fill="#fff" stroke="#000" stroke-width="1.35"/>
<circle cx="384.2" cy="558.9" r="2.95" fill="#fff" stroke="#000" stroke-width="1.35"/>
<circle cx="389.6" cy="557.2" r="2.95" fill="#fff" stroke="#000" stroke-width="1.35"/>
<circle cx="395.0" cy="558.0" r="2.95" fill="#fff" stroke="#000" stroke-width="1.35"/>
<circle cx="400.3" cy="558.9" r="2.95" fill="#fff" stroke="#000" stroke-width="1.35"/>
<circle cx="405.7" cy="556.3" r="2.95" fill="#fff" stroke="#000" stroke-width="1.35"/>
<circle cx="408.4" cy="557.2" r="2.95" fill="#fff" stroke="#000" stroke-width="1.35"/>
<circle cx="387.8" cy="562.5" r="2.95" fill="#fff" stroke="#000" stroke-width="1.35"/>
<circle cx="393.2" cy="563.4" r="2.95" fill="#fff" stroke="#000" stroke-width="1.35"/>
<circle cx="398.5" cy="562.5" r="2.95" fill="#fff" stroke="#000" stroke-width="1.35"/>
<circle cx="403.9" cy="561.6" r="2.95" fill="#fff" stroke="#000" stroke-width="1.35"/>
<circle cx="383.3" cy="561.6" r="2.95" fill="#fff" stroke="#000" stroke-width="1.35"/>
<line x1="374.9" y1="553.6" x2="411.4" y2="553.6" stroke="#000" stroke-width="2.3"/>
<circle cx="444.3" cy="498.1" r="3.3"/>
<circle cx="434.9" cy="515.8" r="3.3"/>
<circle cx="444.3" cy="515.8" r="3.3"/>
<circle cx="434.9" cy="528.2" r="3.3"/>
<circle cx="444.3" cy="528.2" r="3.3"/>
<circle cx="449.1" cy="526.4" r="3.3"/>
<circle cx="454.0" cy="528.2" r="3.3"/>
<circle cx="430.0" cy="531.2" r="3.3"/>
<circle cx="434.9" cy="536.2" r="3.3"/>
<circle cx="439.3" cy="535.8" r="3.3"/>
<circle cx="444.3" cy="536.2" r="3.3"/>
<circle cx="449.1" cy="536.2" r="3.3"/>
<circle cx="454.0" cy="536.2" r="3.3"/>
<circle cx="458.8" cy="534.7" r="3.3"/>
<circle cx="434.9" cy="542.3" r="3.3"/>
<circle cx="439.3" cy="540.6" r="3.3"/>
<circle cx="444.3" cy="538.8" r="3.3"/>
<circle cx="449.1" cy="541.5" r="3.3"/>
<circle cx="454.0" cy="544.1" r="3.3"/>
<circle cx="444.3" cy="552.1" r="3.3"/>
<line x1="426.1" y1="536.2" x2="462.3" y2="536.2" stroke="#000" stroke-width="2.3"/>
<circle cx="488.0" cy="460.4" r="2.95" fill="#fff" stroke="#000" stroke-width="1.35"/>
<circle cx="497.7" cy="468.0" r="2.95" fill="#fff" stroke="#000" stroke-width="1.35"/>
<circle cx="478.8" cy="472.8" r="2.95" fill="#fff" stroke="#000" stroke-width="1.35"/>
<circle cx="488.0" cy="474.6" r="2.95" fill="#fff" stroke="#000" stroke-width="1.35"/>
<circle cx="502.2" cy="477.8" r="2.95" fill="#fff" stroke="#000" stroke-width="1.35"/>
<circle cx="483.6" cy="480.4" r="2.95" fill="#fff" stroke="#000" stroke-width="1.35"/>
<circle cx="478.8" cy="483.1" r="2.95" fill="#fff" stroke="#000" stroke-width="1.35"/>
<circle cx="493.0" cy="482.2" r="2.95" fill="#fff" stroke="#000" stroke-width="1.35"/>
<circle cx="497.7" cy="484.0" r="2.95" fill="#fff" stroke="#000" stroke-width="1.35"/>
<circle cx="473.8" cy="488.4" r="2.95" fill="#fff" stroke="#000" stroke-width="1.35"/>
<circle cx="488.0" cy="485.7" r="2.95" fill="#fff" stroke="#000" stroke-width="1.35"/>
<circle cx="502.2" cy="488.4" r="2.95" fill="#fff" stroke="#000" stroke-width="1.35"/>
<circle cx="483.6" cy="492.8" r="2.95" fill="#fff" stroke="#000" stroke-width="1.35"/>
<circle cx="493.0" cy="493.3" r="2.95" fill="#fff" stroke="#000" stroke-width="1.35"/>
<circle cx="478.8" cy="496.3" r="2.95" fill="#fff" stroke="#000" stroke-width="1.35"/>
<circle cx="488.0" cy="498.1" r="2.95" fill="#fff" stroke="#000" stroke-width="1.35"/>
<circle cx="497.7" cy="498.1" r="2.95" fill="#fff" stroke="#000" stroke-width="1.35"/>
<circle cx="488.0" cy="507.8" r="2.95" fill="#fff" stroke="#000" stroke-width="1.35"/>
<line x1="470.3" y1="485.7" x2="506.0" y2="485.7" stroke="#000" stroke-width="2.3"/>
<rect x="327.3" y="428.7" width="182.70" height="177.80" fill="none" stroke="#000" stroke-width="2.3"/>
<line x1="327.3" y1="586.3" x2="510" y2="586.3" stroke="#000" stroke-width="2.3"/>
<line x1="419" y1="428.7" x2="419" y2="606.5" stroke="#000" stroke-width="2.3"/>
<line x1="320.0" y1="586.3" x2="327.3" y2="586.3" stroke="#000" stroke-width="1.4"/>
<text x="318.8" y="589.7" font-size="15" text-anchor="end" fill="#111">.0</text>
<line x1="320.0" y1="509.8" x2="327.3" y2="509.8" stroke="#000" stroke-width="1.4"/>
<text x="318.8" y="513.2" font-size="15" text-anchor="end" fill="#111">.5</text>
<line x1="320.0" y1="428.7" x2="327.3" y2="428.7" stroke="#000" stroke-width="1.4"/>
<text x="318.8" y="432.1" font-size="15" text-anchor="end" fill="#111">1.0</text>
<text x="371.6" y="603.8" font-size="19.2" font-weight="bold" text-anchor="middle">CD4</text>
<text x="463.0" y="603.8" font-size="19.2" font-weight="bold" text-anchor="middle">CD8</text>
<text transform="translate(288,510) rotate(-90)" font-size="19.6" font-weight="bold" text-anchor="middle">% of vß5<tspan dy="-4.3" font-size="18.0">+</tspan><tspan dy="4.3"> cells</tspan></text>
<text x="358.9" y="487.0" font-size="20" letter-spacing="2.2" stroke="#000" stroke-width="0.35">***</text>
<line x1="353.5" y1="484.5" x2="390.5" y2="484.5" stroke="#000" stroke-width="2.1"/>
<text x="450.5" y="454.0" font-size="20" letter-spacing="2.2" stroke="#000" stroke-width="0.35">***</text>
<line x1="445.9" y1="450.3" x2="483" y2="450.3" stroke="#000" stroke-width="2.1"/>
<circle cx="99.1" cy="719.3" r="3.3"/>
<circle cx="84.7" cy="728.3" r="3.3"/>
<circle cx="101.8" cy="727.8" r="3.3"/>
<circle cx="113.1" cy="730.1" r="3.3"/>
<circle cx="94.1" cy="732.3" r="3.3"/>
<circle cx="89.6" cy="735.9" r="3.3"/>
<circle cx="104.0" cy="733.2" r="3.3"/>
<circle cx="108.5" cy="735.9" r="3.3"/>
<circle cx="84.1" cy="739.5" r="3.3"/>
<circle cx="94.1" cy="739.5" r="3.3"/>
<circle cx="99.1" cy="737.7" r="3.3"/>
<circle cx="104.0" cy="739.5" r="3.3"/>
<circle cx="114.0" cy="740.4" r="3.3"/>
<circle cx="89.6" cy="745.0" r="3.3"/>
<circle cx="99.1" cy="743.2" r="3.3"/>
<circle cx="108.5" cy="744.1" r="3.3"/>
<circle cx="99.1" cy="748.9" r="3.3"/>
<circle cx="108.5" cy="748.2" r="3.3"/>
<circle cx="86.8" cy="741.3" r="3.3"/>
<line x1="80.5" y1="738.1" x2="117.9" y2="738.1" stroke="#000" stroke-width="2.3"/>
<circle cx="138.4" cy="704.3" r="2.95" fill="#fff" stroke="#000" stroke-width="1.35"/>
<circle cx="133.5" cy="706.6" r="2.95" fill="#fff" stroke="#000" stroke-width="1.35"/>
<circle cx="147.9" cy="706.1" r="2.95" fill="#fff" stroke="#000" stroke-width="1.35"/>
<circle cx="152.8" cy="709.2" r="2.95" fill="#fff" stroke="#000" stroke-width="1.35"/>
<circle cx="133.5" cy="712.4" r="2.95" fill="#fff" stroke="#000" stroke-width="1.35"/>
<circle cx="142.9" cy="713.3" r="2.95" fill="#fff" stroke="#000" stroke-width="1.35"/>
<circle cx="147.9" cy="716.4" r="2.95" fill="#fff" stroke="#000" stroke-width="1.35"/>
<circle cx="133.5" cy="717.5" r="2.95" fill="#fff" stroke="#000" stroke-width="1.35"/>
<circle cx="142.9" cy="723.3" r="2.95" fill="#fff" stroke="#000" stroke-width="1.35"/>
<circle cx="152.8" cy="723.3" r="2.95" fill="#fff" stroke="#000" stroke-width="1.35"/>
<circle cx="138.4" cy="728.3" r="2.95" fill="#fff" stroke="#000" stroke-width="1.35"/>
<circle cx="147.9" cy="728.7" r="2.95" fill="#fff" stroke="#000" stroke-width="1.35"/>
<circle cx="133.5" cy="733.2" r="2.95" fill="#fff" stroke="#000" stroke-width="1.35"/>
<circle cx="133.5" cy="737.7" r="2.95" fill="#fff" stroke="#000" stroke-width="1.35"/>
<circle cx="142.9" cy="735.9" r="2.95" fill="#fff" stroke="#000" stroke-width="1.35"/>
<circle cx="152.8" cy="734.1" r="2.95" fill="#fff" stroke="#000" stroke-width="1.35"/>
<circle cx="152.8" cy="741.0" r="2.95" fill="#fff" stroke="#000" stroke-width="1.35"/>
<circle cx="142.9" cy="745.9" r="2.95" fill="#fff" stroke="#000" stroke-width="1.35"/>
<line x1="124.4" y1="723.6" x2="161.3" y2="723.6" stroke="#000" stroke-width="2.3"/>
<circle cx="192.9" cy="691.5" r="3.3"/>
<circle cx="187.9" cy="700.6" r="3.3"/>
<circle cx="197.8" cy="700.6" r="3.3"/>
<circle cx="183.4" cy="704.5" r="3.3"/>
<circle cx="202.3" cy="706.0" r="3.3"/>
<circle cx="183.4" cy="709.1" r="3.3"/>
<circle cx="192.9" cy="708.5" r="3.3"/>
<circle cx="206.9" cy="710.3" r="3.3"/>
<circle cx="187.9" cy="713.6" r="3.3"/>
<circle cx="178.8" cy="715.0" r="3.3"/>
<circle cx="183.4" cy="719.0" r="3.3"/>
<circle cx="192.9" cy="714.5" r="3.3"/>
<circle cx="197.8" cy="716.3" r="3.3"/>
<circle cx="202.3" cy="715.0" r="3.3"/>
<circle cx="192.9" cy="719.0" r="3.3"/>
<circle cx="197.8" cy="720.8" r="3.3"/>
<circle cx="202.3" cy="720.8" r="3.3"/>
<circle cx="183.4" cy="726.2" r="3.3"/>
<circle cx="192.9" cy="728.9" r="3.3"/>
<circle cx="202.3" cy="734.4" r="3.3"/>
<circle cx="192.9" cy="740.7" r="3.3"/>
<line x1="174.3" y1="715.0" x2="211.4" y2="715.0" stroke="#000" stroke-width="2.3"/>
<circle cx="236.7" cy="654.3" r="2.95" fill="#fff" stroke="#000" stroke-width="1.35"/>
<circle cx="246.3" cy="652.5" r="2.95" fill="#fff" stroke="#000" stroke-width="1.35"/>
<circle cx="227.3" cy="663.0" r="2.95" fill="#fff" stroke="#000" stroke-width="1.35"/>
<circle cx="241.8" cy="662.1" r="2.95" fill="#fff" stroke="#000" stroke-width="1.35"/>
<circle cx="227.3" cy="669.3" r="2.95" fill="#fff" stroke="#000" stroke-width="1.35"/>
<circle cx="236.7" cy="669.8" r="2.95" fill="#fff" stroke="#000" stroke-width="1.35"/>
<circle cx="246.3" cy="668.0" r="2.95" fill="#fff" stroke="#000" stroke-width="1.35"/>
<circle cx="251.2" cy="672.9" r="2.95" fill="#fff" stroke="#000" stroke-width="1.35"/>
<circle cx="232.2" cy="674.2" r="2.95" fill="#fff" stroke="#000" stroke-width="1.35"/>
<circle cx="241.8" cy="677.4" r="2.95" fill="#fff" stroke="#000" stroke-width="1.35"/>
<circle cx="227.3" cy="678.9" r="2.95" fill="#fff" stroke="#000" stroke-width="1.35"/>
<circle cx="236.7" cy="681.4" r="2.95" fill="#fff" stroke="#000" stroke-width="1.35"/>
<circle cx="246.3" cy="681.0" r="2.95" fill="#fff" stroke="#000" stroke-width="1.35"/>
<circle cx="246.3" cy="686.1" r="2.95" fill="#fff" stroke="#000" stroke-width="1.35"/>
<circle cx="227.3" cy="691.0" r="2.95" fill="#fff" stroke="#000" stroke-width="1.35"/>
<circle cx="236.7" cy="695.1" r="2.95" fill="#fff" stroke="#000" stroke-width="1.35"/>
<circle cx="227.3" cy="701.3" r="2.95" fill="#fff" stroke="#000" stroke-width="1.35"/>
<circle cx="236.7" cy="707.8" r="2.95" fill="#fff" stroke="#000" stroke-width="1.35"/>
<circle cx="246.3" cy="706.0" r="2.95" fill="#fff" stroke="#000" stroke-width="1.35"/>
<line x1="218.3" y1="678.0" x2="255.1" y2="678.0" stroke="#000" stroke-width="2.3"/>
<rect x="76.1" y="615.1" width="183.90" height="177.20" fill="none" stroke="#000" stroke-width="2.3"/>
<line x1="76.1" y1="773" x2="260" y2="773" stroke="#000" stroke-width="2.3"/>
<line x1="168.5" y1="615.1" x2="168.5" y2="792.3" stroke="#000" stroke-width="2.3"/>
<line x1="68.8" y1="773" x2="76.1" y2="773" stroke="#000" stroke-width="1.4"/>
<text x="67.6" y="778.2" font-size="15" text-anchor="end" fill="#111">.0</text>
<line x1="68.8" y1="720.3" x2="76.1" y2="720.3" stroke="#000" stroke-width="1.4"/>
<text x="67.6" y="725.5" font-size="15" text-anchor="end" fill="#111">1.0</text>
<line x1="68.8" y1="668.6" x2="76.1" y2="668.6" stroke="#000" stroke-width="1.4"/>
<text x="67.6" y="673.8" font-size="15" text-anchor="end" fill="#111">2.0</text>
<line x1="68.8" y1="615.1" x2="76.1" y2="615.1" stroke="#000" stroke-width="1.4"/>
<text x="67.6" y="620.3" font-size="15" text-anchor="end" fill="#111">3.0</text>
<text x="120.8" y="789.8" font-size="19.2" font-weight="bold" text-anchor="middle">CD4</text>
<text x="212.8" y="789.8" font-size="19.2" font-weight="bold" text-anchor="middle">CD8</text>
<text transform="translate(40,700) rotate(-90)" font-size="19.6" font-weight="bold" text-anchor="middle">% of vß11<tspan dy="-4.3" font-size="18.0">+</tspan><tspan dy="4.3"> cells</tspan></text>
<text x="108.2" y="691.0" font-size="20" letter-spacing="2.2" stroke="#000" stroke-width="0.35">***</text>
<line x1="103.5" y1="688.2" x2="140.7" y2="688.2" stroke="#000" stroke-width="2.1"/>
<text x="202.9" y="644.3" font-size="20" letter-spacing="2.2" stroke="#000" stroke-width="0.35">***</text>
<line x1="196.9" y1="642.5" x2="234" y2="642.5" stroke="#000" stroke-width="2.1"/>
<circle cx="339.9" cy="745.6" r="3.3"/>
<circle cx="359.2" cy="745.2" r="3.3"/>
<circle cx="339.9" cy="750.0" r="3.3"/>
<circle cx="349.9" cy="749.5" r="3.3"/>
<circle cx="335.0" cy="754.5" r="3.3"/>
<circle cx="339.9" cy="755.4" r="3.3"/>
<circle cx="344.9" cy="754.5" r="3.3"/>
<circle cx="349.9" cy="753.6" r="3.3"/>
<circle cx="354.7" cy="754.5" r="3.3"/>
<circle cx="360.1" cy="752.7" r="3.3"/>
<circle cx="364.6" cy="755.4" r="3.3"/>
<circle cx="334.2" cy="757.7" r="3.3"/>
<circle cx="339.5" cy="758.1" r="3.3"/>
<circle cx="344.9" cy="758.1" r="3.3"/>
<circle cx="349.9" cy="759.9" r="3.3"/>
<circle cx="354.7" cy="757.7" r="3.3"/>
<circle cx="360.1" cy="758.1" r="3.3"/>
<circle cx="364.6" cy="758.1" r="3.3"/>
<line x1="331.5" y1="754.5" x2="368.5" y2="754.5" stroke="#000" stroke-width="2.3"/>
<circle cx="393.5" cy="646.8" r="2.95" fill="#fff" stroke="#000" stroke-width="1.35"/>
<circle cx="384.2" cy="667.2" r="2.95" fill="#fff" stroke="#000" stroke-width="1.35"/>
<circle cx="393.5" cy="668.3" r="2.95" fill="#fff" stroke="#000" stroke-width="1.35"/>
<circle cx="398.5" cy="664.2" r="2.95" fill="#fff" stroke="#000" stroke-width="1.35"/>
<circle cx="403.6" cy="667.2" r="2.95" fill="#fff" stroke="#000" stroke-width="1.35"/>
<circle cx="393.5" cy="678.0" r="2.95" fill="#fff" stroke="#000" stroke-width="1.35"/>
<circle cx="403.6" cy="683.3" r="2.95" fill="#fff" stroke="#000" stroke-width="1.35"/>
<circle cx="393.5" cy="690.1" r="2.95" fill="#fff" stroke="#000" stroke-width="1.35"/>
<circle cx="388.7" cy="722.3" r="2.95" fill="#fff" stroke="#000" stroke-width="1.35"/>
<circle cx="398.5" cy="722.3" r="2.95" fill="#fff" stroke="#000" stroke-width="1.35"/>
<circle cx="408.4" cy="718.7" r="2.95" fill="#fff" stroke="#000" stroke-width="1.35"/>
<circle cx="384.2" cy="726.8" r="2.95" fill="#fff" stroke="#000" stroke-width="1.35"/>
<circle cx="393.5" cy="728.0" r="2.95" fill="#fff" stroke="#000" stroke-width="1.35"/>
<circle cx="403.6" cy="726.8" r="2.95" fill="#fff" stroke="#000" stroke-width="1.35"/>
<circle cx="384.2" cy="733.0" r="2.95" fill="#fff" stroke="#000" stroke-width="1.35"/>
<circle cx="398.5" cy="729.5" r="2.95" fill="#fff" stroke="#000" stroke-width="1.35"/>
<circle cx="393.5" cy="738.1" r="2.95" fill="#fff" stroke="#000" stroke-width="1.35"/>
<circle cx="403.6" cy="735.7" r="2.95" fill="#fff" stroke="#000" stroke-width="1.35"/>
<line x1="375.3" y1="722.9" x2="412.5" y2="722.9" stroke="#000" stroke-width="2.3"/>
<circle cx="443.4" cy="729.0" r="3.3"/>
<circle cx="448.2" cy="737.8" r="3.3"/>
<circle cx="434.0" cy="740.5" r="3.3"/>
<circle cx="452.6" cy="741.7" r="3.3"/>
<circle cx="434.0" cy="744.9" r="3.3"/>
<circle cx="443.4" cy="745.8" r="3.3"/>
<circle cx="454.4" cy="746.7" r="3.3"/>
<circle cx="428.7" cy="750.6" r="3.3"/>
<circle cx="434.0" cy="750.2" r="3.3"/>
<circle cx="439.3" cy="751.1" r="3.3"/>
<circle cx="443.8" cy="750.2" r="3.3"/>
<circle cx="449.1" cy="750.2" r="3.3"/>
<circle cx="454.4" cy="749.9" r="3.3"/>
<circle cx="458.8" cy="751.1" r="3.3"/>
<circle cx="431.4" cy="754.7" r="3.3"/>
<circle cx="438.5" cy="755.5" r="3.3"/>
<circle cx="443.8" cy="756.4" r="3.3"/>
<circle cx="451.7" cy="755.5" r="3.3"/>
<circle cx="442.9" cy="748.5" r="3.3"/>
<line x1="425.2" y1="749.9" x2="461.5" y2="749.9" stroke="#000" stroke-width="2.3"/>
<circle cx="477.4" cy="716.3" r="2.95" fill="#fff" stroke="#000" stroke-width="1.35"/>
<circle cx="487.1" cy="717.5" r="2.95" fill="#fff" stroke="#000" stroke-width="1.35"/>
<circle cx="477.4" cy="726.9" r="2.95" fill="#fff" stroke="#000" stroke-width="1.35"/>
<circle cx="482.7" cy="724.0" r="2.95" fill="#fff" stroke="#000" stroke-width="1.35"/>
<circle cx="491.9" cy="724.0" r="2.95" fill="#fff" stroke="#000" stroke-width="1.35"/>
<circle cx="501.3" cy="722.3" r="2.95" fill="#fff" stroke="#000" stroke-width="1.35"/>
<circle cx="487.1" cy="728.1" r="2.95" fill="#fff" stroke="#000" stroke-width="1.35"/>
<circle cx="496.8" cy="728.1" r="2.95" fill="#fff" stroke="#000" stroke-width="1.35"/>
<circle cx="477.4" cy="733.4" r="2.95" fill="#fff" stroke="#000" stroke-width="1.35"/>
<circle cx="482.7" cy="734.3" r="2.95" fill="#fff" stroke="#000" stroke-width="1.35"/>
<circle cx="491.9" cy="734.0" r="2.95" fill="#fff" stroke="#000" stroke-width="1.35"/>
<circle cx="473.0" cy="740.5" r="2.95" fill="#fff" stroke="#000" stroke-width="1.35"/>
<circle cx="482.3" cy="741.7" r="2.95" fill="#fff" stroke="#000" stroke-width="1.35"/>
<circle cx="487.1" cy="739.3" r="2.95" fill="#fff" stroke="#000" stroke-width="1.35"/>
<circle cx="491.9" cy="742.8" r="2.95" fill="#fff" stroke="#000" stroke-width="1.35"/>
<circle cx="501.3" cy="741.7" r="2.95" fill="#fff" stroke="#000" stroke-width="1.35"/>
<circle cx="477.4" cy="749.9" r="2.95" fill="#fff" stroke="#000" stroke-width="1.35"/>
<circle cx="487.1" cy="749.9" r="2.95" fill="#fff" stroke="#000" stroke-width="1.35"/>
<circle cx="496.8" cy="749.9" r="2.95" fill="#fff" stroke="#000" stroke-width="1.35"/>
<line x1="468.9" y1="734.0" x2="505.7" y2="734.0" stroke="#000" stroke-width="2.3"/>
<rect x="327.5" y="615" width="182.50" height="177.50" fill="none" stroke="#000" stroke-width="2.3"/>
<line x1="327.5" y1="772.3" x2="510" y2="772.3" stroke="#000" stroke-width="2.3"/>
<line x1="419" y1="615" x2="419" y2="792.5" stroke="#000" stroke-width="2.3"/>
<line x1="320.7" y1="772.3" x2="327.5" y2="772.3" stroke="#000" stroke-width="1.4"/>
<text x="319.3" y="777.6" font-size="15" text-anchor="end" fill="#111">.0</text>
<line x1="320.7" y1="708.5" x2="327.5" y2="708.5" stroke="#000" stroke-width="1.4"/>
<text x="319.3" y="713.8" font-size="15" text-anchor="end" fill="#111">.5</text>
<line x1="320.7" y1="645.4" x2="327.5" y2="645.4" stroke="#000" stroke-width="1.4"/>
<text x="319.3" y="650.7" font-size="15" text-anchor="end" fill="#111">.0</text>
<text x="371.8" y="789.8" font-size="19.2" font-weight="bold" text-anchor="middle">CD4</text>
<text x="463.0" y="789.8" font-size="19.2" font-weight="bold" text-anchor="middle">CD8</text>
<text transform="translate(288,700) rotate(-90)" font-size="19.6" font-weight="bold" text-anchor="middle">% of vß12<tspan dy="-4.3" font-size="18.0">+</tspan><tspan dy="4.3"> cells</tspan></text>
<text x="353.5" y="638.7" font-size="20" letter-spacing="2.2" stroke="#000" stroke-width="0.35">***</text>
<line x1="348.5" y1="635.9" x2="385.7" y2="635.9" stroke="#000" stroke-width="2.1"/>
<text x="444.4" y="702.2" font-size="20" letter-spacing="2.2" stroke="#000" stroke-width="0.35">***</text>
<line x1="438.5" y1="698.9" x2="476" y2="698.9" stroke="#000" stroke-width="2.1"/>
<text x="2.2" y="19.6" font-size="25.5" font-weight="bold">A</text>
<text x="0.5" y="442" font-size="25" font-weight="bold">B</text>
<text x="0.8" y="834" font-size="25" font-weight="bold">C</text>
<text x="182.6" y="835.3" font-size="28" text-anchor="middle">+/+</text>
<text x="402" y="835.6" font-size="28.5" text-anchor="middle">-/-</text>

<defs>
<clipPath id="cL"><rect x="74.5" y="841" width="217.1" height="276.2"/></clipPath>
<clipPath id="cR"><rect x="294" y="841.5" width="216.3" height="275.7"/></clipPath>
<filter id="bl6" x="-20%" y="-20%" width="140%" height="140%" color-interpolation-filters="sRGB"><feGaussianBlur stdDeviation="5.5"/></filter>
<filter id="bl3" x="-50%" y="-50%" width="200%" height="200%" color-interpolation-filters="sRGB"><feGaussianBlur stdDeviation="3"/></filter>
<filter id="bl2" x="-50%" y="-50%" width="200%" height="200%" color-interpolation-filters="sRGB"><feGaussianBlur stdDeviation="1.8"/></filter>
<filter id="bl1" x="-50%" y="-50%" width="200%" height="200%" color-interpolation-filters="sRGB"><feGaussianBlur stdDeviation="0.8"/></filter>
<filter id="texD" filterUnits="userSpaceOnUse" x="70" y="838" width="445" height="285" color-interpolation-filters="sRGB">
 <feTurbulence type="fractalNoise" baseFrequency="0.28" numOctaves="2" seed="4"/>
 <feColorMatrix type="matrix" values="0 0 0 0 0.38  0 0 0 0 0.08  0 0 0 0 0.16  4.5 0 0 0 -1.95"/>
</filter>
<filter id="texF" filterUnits="userSpaceOnUse" x="70" y="838" width="445" height="285" color-interpolation-filters="sRGB">
 <feTurbulence type="turbulence" baseFrequency="0.14" numOctaves="2" seed="5" result="t"/>
 <feTurbulence type="fractalNoise" baseFrequency="0.035" numOctaves="2" seed="17" result="lo"/>
 <feColorMatrix in="t" type="matrix" values="0 0 0 0 0.85  0 0 0 0 0.25  0 0 0 0 0.15  -7 0 0 0 1.42" result="f"/>
 <feColorMatrix in="lo" type="matrix" values="0 0 0 0 0  0 0 0 0 0  0 0 0 0 0  3 0 0 0 -0.9" result="loA"/>
 <feComposite in="f" in2="loA" operator="in"/>
</filter>
<filter id="texP" filterUnits="userSpaceOnUse" x="70" y="838" width="445" height="285" color-interpolation-filters="sRGB">
 <feTurbulence type="turbulence" baseFrequency="0.19" numOctaves="2" seed="8"/>
 <feColorMatrix type="matrix" values="0 0 0 0 1  0 0 0 0 0.26  0 0 0 0 0.5  -6 0 0 0 2.0"/>
</filter>
<filter id="texO" filterUnits="userSpaceOnUse" x="70" y="838" width="445" height="285" color-interpolation-filters="sRGB">
 <feTurbulence type="turbulence" baseFrequency="0.18" numOctaves="2" seed="12"/>
 <feColorMatrix type="matrix" values="0 0 0 0 0.95  0 0 0 0 0.35  0 0 0 0 0.22  -6 0 0 0 1.7"/>
</filter>
<mask id="mT" maskUnits="userSpaceOnUse" x="70" y="838" width="445" height="285">
 <g filter="url(#bl6)" fill="#fff">
  <path d="M104,935 L112,903 L125,890 L138,878 L165,872 L200,878 L230,877 L248,870 L258,876 L268,888 L272,905 L272,940 L270,975 L262,995 L255,1010 L250,1030 L238,1050 L225,1070 L205,1085 L195,1100 L180,1108 L165,1100 L155,1085 L135,1075 L112,1070 L96,1058 L90,1030 L90,1000 L93,970 L98,950 Z"/>
  <path d="M245,841 L292,841 L292,900 L270,880 L245,865 Z" fill="#3a3a3a"/>
  <path d="M298,866 L320,860 L360,858 L400,862 L425,868 L435,885 L438,905 L430,925 L410,935 L385,942 L365,940 L355,925 L340,912 L318,905 L300,900 Z"/>
  <path d="M330,950 L345,946 L365,952 L385,967 L400,982 L420,984 L445,990 L470,996 L500,1000 L514,1005 L514,1122 L470,1122 L450,1105 L425,1085 L405,1060 L385,1050 L370,1035 L360,1015 L350,1000 L338,985 L330,970 L326,958 Z"/>
  <ellipse cx="179" cy="967" rx="11" ry="13" fill="#000" fill-opacity="0.8"/><ellipse cx="154" cy="990" rx="8" ry="10" fill="#000" fill-opacity="0.5"/><ellipse cx="208" cy="1066" rx="9" ry="8" fill="#000" fill-opacity="0.7"/><ellipse cx="147" cy="1066" rx="9" ry="7" fill="#000" fill-opacity="0.6"/><ellipse cx="366" cy="913" rx="9" ry="8" fill="#000" fill-opacity="0.6"/><ellipse cx="318" cy="890" rx="8" ry="6" fill="#000" fill-opacity="0.4"/><ellipse cx="386" cy="1022" rx="8" ry="9" fill="#000" fill-opacity="0.4"/><ellipse cx="455" cy="1085" rx="10" ry="10" fill="#000" fill-opacity="0.4"/><ellipse cx="256" cy="1020" rx="6" ry="12" fill="#000" fill-opacity="0.5"/>
 </g>
</mask>
<mask id="mHot" maskUnits="userSpaceOnUse" x="70" y="838" width="445" height="285">
 <g filter="url(#bl3)" fill="#fff"><ellipse cx="143.2" cy="888.2" rx="7.8" ry="6.5"/><ellipse cx="126.4" cy="911.3" rx="11.7" ry="11.7"/><ellipse cx="118" cy="930" rx="5.2" ry="5.2"/><ellipse cx="141" cy="944.8" rx="15.6" ry="10.4"/><ellipse cx="124.3" cy="965.8" rx="5.2" ry="5.2"/><ellipse cx="199.8" cy="909.2" rx="9.1" ry="9.1"/><ellipse cx="241.7" cy="915.5" rx="7.8" ry="10.4"/><ellipse cx="245.9" cy="978.4" rx="13.0" ry="7.8"/><ellipse cx="262.7" cy="970" rx="7.8" ry="7.8"/><ellipse cx="99.2" cy="1016" rx="7.8" ry="7.8"/><ellipse cx="111.7" cy="1045.4" rx="10.4" ry="7.8"/><ellipse cx="170.4" cy="1028.7" rx="7.8" ry="10.4"/><ellipse cx="212.4" cy="1041.3" rx="6.5" ry="6.5"/><ellipse cx="178.8" cy="1087.4" rx="10.4" ry="7.8"/><ellipse cx="174.6" cy="995" rx="6.5" ry="6.5"/><ellipse cx="208" cy="1016" rx="6.5" ry="6.5"/><ellipse cx="167" cy="926.7" rx="6.5" ry="6.5"/><ellipse cx="203" cy="936" rx="6.5" ry="5.2"/><ellipse cx="227.5" cy="949" rx="6.5" ry="6.5"/><ellipse cx="186" cy="891" rx="5.2" ry="5.2"/><ellipse cx="122.6" cy="1049.5" rx="9.1" ry="6.5"/><ellipse cx="311.9" cy="871.4" rx="5.2" ry="5.2"/><ellipse cx="332.8" cy="875.6" rx="4.5" ry="4.5"/><ellipse cx="335" cy="894.5" rx="4.5" ry="4.5"/><ellipse cx="402" cy="909" rx="10.4" ry="10.4"/><ellipse cx="389.4" cy="923.9" rx="10.4" ry="9.1"/><ellipse cx="420.9" cy="909.2" rx="6.5" ry="6.5"/><ellipse cx="343.3" cy="965.8" rx="13.0" ry="10.4"/><ellipse cx="360.1" cy="988.8" rx="10.4" ry="10.4"/><ellipse cx="397.8" cy="999.3" rx="7.8" ry="7.8"/><ellipse cx="360" cy="1012" rx="5.2" ry="5.2"/><ellipse cx="395.7" cy="1037" rx="7.8" ry="7.8"/><ellipse cx="477.5" cy="1007.7" rx="11.7" ry="9.1"/><ellipse cx="494" cy="1041" rx="9.1" ry="9.1"/><ellipse cx="486" cy="1079" rx="7.8" ry="7.8"/><ellipse cx="412.5" cy="1028.7" rx="7.8" ry="7.8"/><ellipse cx="444" cy="1037" rx="6.5" ry="6.5"/><ellipse cx="439.8" cy="1058" rx="6.5" ry="6.5"/></g>
</mask>
</defs>
<rect x="74.5" y="841" width="217.1" height="276.2" fill="#000"/>
<rect x="294" y="841.5" width="216.3" height="275.7" fill="#000"/>
<g clip-path="url(#cL)">
 <g mask="url(#mT)">
  <rect x="70" y="838" width="225" height="285" filter="url(#texD)"/>
  <rect x="70" y="838" width="225" height="285" filter="url(#texF)"/>
  <g filter="url(#bl1)"><g fill="#6a40ff"><circle cx="175.9" cy="997.3" r="1.4"/><circle cx="187.7" cy="1004.8" r="1.4"/><circle cx="119.1" cy="984.2" r="2.5"/><circle cx="213.5" cy="1060.7" r="1.7"/><circle cx="218.6" cy="1012.4" r="1.4"/><circle cx="120.3" cy="910.8" r="1.5"/><circle cx="173.4" cy="1074.1" r="1.9"/><circle cx="190.1" cy="1019.2" r="2.6"/><circle cx="186.0" cy="1025.2" r="1.6"/><circle cx="177.0" cy="920.7" r="2.4"/><circle cx="146.8" cy="907.5" r="1.9"/><circle cx="242.5" cy="953.9" r="1.8"/><circle cx="259.5" cy="950.1" r="2.3"/><circle cx="95.5" cy="1016.2" r="1.8"/><circle cx="245.0" cy="918.4" r="1.4"/><circle cx="249.0" cy="893.3" r="2.0"/><circle cx="198.6" cy="966.7" r="2.2"/><circle cx="120.4" cy="1044.1" r="2.1"/><circle cx="107.8" cy="1020.1" r="1.7"/><circle cx="104.7" cy="959.4" r="2.5"/><circle cx="125.1" cy="918.4" r="2.4"/><circle cx="124.7" cy="952.2" r="2.6"/><circle cx="125.2" cy="915.3" r="1.9"/><circle cx="243.8" cy="934.5" r="2.4"/><circle cx="99.1" cy="1003.5" r="2.2"/><circle cx="131.5" cy="1008.5" r="1.5"/><circle cx="158.8" cy="968.3" r="1.3"/><circle cx="201.8" cy="1080.7" r="1.5"/><circle cx="132.9" cy="896.6" r="1.5"/><circle cx="169.3" cy="873.2" r="1.4"/><circle cx="130.5" cy="1036.6" r="1.8"/><circle cx="134.5" cy="1069.1" r="2.3"/><circle cx="206.5" cy="924.8" r="1.7"/><circle cx="117.2" cy="1040.9" r="2.0"/><circle cx="198.6" cy="1076.9" r="1.3"/><circle cx="210.2" cy="921.2" r="1.6"/><circle cx="117.4" cy="945.3" r="2.5"/><circle cx="201.3" cy="880.8" r="1.3"/><circle cx="156.8" cy="1087.3" r="2.0"/><circle cx="226.5" cy="1004.0" r="2.4"/><circle cx="182.2" cy="1043.7" r="2.3"/><circle cx="96.0" cy="993.5" r="2.3"/><circle cx="236.3" cy="1036.4" r="1.8"/><circle cx="154.6" cy="1031.4" r="2.3"/><circle cx="168.4" cy="1060.0" r="2.4"/><circle cx="212.5" cy="949.0" r="2.3"/><circle cx="203.5" cy="1010.6" r="2.6"/><circle cx="97.0" cy="1018.9" r="1.4"/><circle cx="234.4" cy="950.7" r="2.5"/><circle cx="235.8" cy="1003.0" r="1.8"/><circle cx="173.4" cy="1073.0" r="2.2"/><circle cx="97.8" cy="1049.1" r="1.6"/><circle cx="182.0" cy="907.6" r="2.5"/><circle cx="228.0" cy="980.3" r="1.3"/><circle cx="143.8" cy="1029.5" r="2.0"/><circle cx="173.7" cy="1087.5" r="1.6"/><circle cx="149.3" cy="1026.1" r="1.8"/><circle cx="122.1" cy="962.2" r="1.8"/><circle cx="266.6" cy="949.6" r="2.2"/><circle cx="203.6" cy="931.1" r="2.4"/><circle cx="108.9" cy="980.0" r="1.8"/><circle cx="138.7" cy="891.0" r="2.1"/><circle cx="175.5" cy="919.8" r="1.8"/><circle cx="125.4" cy="957.6" r="1.7"/><circle cx="212.7" cy="979.3" r="2.5"/><circle cx="146.9" cy="1073.2" r="1.7"/><circle cx="230.2" cy="1000.2" r="1.4"/><circle cx="145.5" cy="1060.3" r="1.7"/><circle cx="255.9" cy="909.6" r="2.3"/><circle cx="213.4" cy="966.4" r="1.6"/><circle cx="213.6" cy="1023.2" r="2.3"/><circle cx="225.1" cy="899.2" r="2.0"/><circle cx="180.7" cy="893.6" r="2.2"/><circle cx="231.4" cy="893.7" r="1.5"/><circle cx="137.7" cy="939.0" r="1.4"/><circle cx="227.8" cy="986.6" r="1.5"/><circle cx="210.3" cy="1050.7" r="1.8"/><circle cx="163.4" cy="1060.4" r="1.9"/><circle cx="107.5" cy="968.4" r="1.3"/><circle cx="159.9" cy="999.7" r="2.0"/><circle cx="218.1" cy="900.7" r="1.8"/><circle cx="216.0" cy="1040.2" r="1.7"/><circle cx="193.8" cy="1060.1" r="2.0"/><circle cx="261.4" cy="939.8" r="2.5"/><circle cx="97.5" cy="964.9" r="1.6"/><circle cx="196.7" cy="1054.0" r="2.4"/><circle cx="249.6" cy="892.0" r="1.7"/><circle cx="151.0" cy="1059.3" r="2.3"/><circle cx="189.5" cy="1041.8" r="1.4"/><circle cx="126.9" cy="988.3" r="2.6"/><circle cx="141.5" cy="1043.2" r="1.9"/><circle cx="215.4" cy="987.2" r="2.6"/><circle cx="258.8" cy="997.3" r="1.6"/><circle cx="146.1" cy="948.7" r="1.8"/><circle cx="201.5" cy="899.7" r="2.2"/><circle cx="193.6" cy="981.9" r="1.5"/><circle cx="164.9" cy="1062.9" r="1.7"/><circle cx="199.3" cy="978.6" r="2.2"/><circle cx="194.2" cy="957.5" r="2.5"/><circle cx="137.1" cy="973.7" r="1.7"/><circle cx="106.9" cy="963.0" r="1.5"/><circle cx="181.0" cy="931.3" r="1.8"/><circle cx="120.6" cy="1013.1" r="2.6"/><circle cx="121.2" cy="906.8" r="1.5"/><circle cx="225.7" cy="932.6" r="2.1"/><circle cx="155.3" cy="1013.6" r="1.8"/><circle cx="102.2" cy="1043.8" r="2.1"/><circle cx="106.0" cy="983.8" r="1.6"/><circle cx="133.1" cy="898.8" r="2.1"/><circle cx="192.4" cy="963.8" r="2.5"/><circle cx="409.4" cy="888.4" r="2.4"/><circle cx="433.2" cy="989.1" r="2.1"/><circle cx="479.6" cy="1011.4" r="2.0"/><circle cx="455.5" cy="1065.5" r="2.0"/><circle cx="350.6" cy="871.4" r="1.4"/><circle cx="381.8" cy="1031.4" r="2.4"/><circle cx="442.8" cy="1092.9" r="2.2"/><circle cx="404.2" cy="1051.2" r="1.9"/><circle cx="403.6" cy="1031.5" r="2.2"/><circle cx="335.2" cy="864.2" r="1.8"/><circle cx="414.3" cy="985.0" r="1.8"/><circle cx="418.0" cy="884.9" r="1.6"/><circle cx="334.2" cy="900.5" r="2.1"/><circle cx="477.2" cy="1114.4" r="2.0"/><circle cx="394.7" cy="1053.0" r="2.0"/><circle cx="365.2" cy="972.0" r="1.3"/><circle cx="446.8" cy="1074.6" r="2.1"/><circle cx="333.5" cy="968.5" r="1.9"/><circle cx="336.5" cy="889.9" r="2.1"/><circle cx="488.7" cy="1063.1" r="2.1"/><circle cx="447.6" cy="1079.1" r="2.5"/><circle cx="508.2" cy="1063.9" r="1.5"/><circle cx="456.3" cy="1056.6" r="1.9"/><circle cx="489.4" cy="1084.3" r="2.6"/><circle cx="445.5" cy="1053.7" r="2.3"/><circle cx="368.5" cy="972.5" r="1.7"/><circle cx="433.2" cy="1014.7" r="2.3"/><circle cx="437.8" cy="999.9" r="2.6"/><circle cx="512.0" cy="1019.7" r="1.8"/><circle cx="446.9" cy="1052.2" r="2.4"/><circle cx="428.2" cy="1046.0" r="1.5"/><circle cx="349.9" cy="954.2" r="2.6"/><circle cx="305.0" cy="898.2" r="1.9"/><circle cx="375.9" cy="871.8" r="1.6"/><circle cx="510.9" cy="1018.5" r="2.4"/><circle cx="424.3" cy="1051.5" r="2.1"/><circle cx="408.8" cy="1007.6" r="2.5"/><circle cx="373.7" cy="922.7" r="2.4"/><circle cx="436.8" cy="997.5" r="2.3"/><circle cx="509.6" cy="1101.9" r="2.0"/><circle cx="387.6" cy="974.9" r="2.6"/><circle cx="507.4" cy="1067.1" r="1.4"/><circle cx="425.6" cy="876.3" r="2.4"/><circle cx="338.4" cy="859.2" r="2.2"/><circle cx="409.1" cy="878.8" r="1.6"/><circle cx="390.5" cy="1026.7" r="2.3"/><circle cx="393.3" cy="916.3" r="1.9"/><circle cx="511.5" cy="1104.1" r="2.0"/><circle cx="465.0" cy="1015.0" r="2.4"/><circle cx="372.3" cy="918.9" r="1.6"/><circle cx="443.3" cy="998.7" r="1.7"/><circle cx="423.0" cy="1017.2" r="2.1"/><circle cx="493.6" cy="1084.0" r="1.4"/><circle cx="353.1" cy="960.7" r="2.0"/><circle cx="414.0" cy="1016.7" r="2.3"/><circle cx="375.4" cy="975.2" r="1.9"/><circle cx="456.4" cy="1073.1" r="1.6"/><circle cx="310.2" cy="877.6" r="2.3"/><circle cx="470.4" cy="1014.7" r="2.4"/><circle cx="386.5" cy="915.2" r="2.3"/><circle cx="364.9" cy="994.2" r="2.0"/><circle cx="456.7" cy="1095.5" r="2.5"/><circle cx="311.1" cy="867.6" r="2.3"/><circle cx="452.0" cy="1033.8" r="1.5"/><circle cx="355.7" cy="883.9" r="1.8"/><circle cx="373.9" cy="876.9" r="1.4"/><circle cx="448.6" cy="999.8" r="1.3"/><circle cx="494.2" cy="1100.7" r="1.7"/><circle cx="363.2" cy="953.7" r="2.4"/><circle cx="497.8" cy="1088.4" r="2.4"/><circle cx="476.3" cy="998.1" r="1.5"/><circle cx="412.6" cy="999.3" r="1.5"/><circle cx="504.7" cy="1022.1" r="1.8"/><circle cx="413.2" cy="1059.4" r="2.4"/><circle cx="312.3" cy="867.2" r="2.1"/><circle cx="454.7" cy="1089.5" r="2.5"/><circle cx="407.7" cy="1053.0" r="1.4"/><circle cx="380.0" cy="936.9" r="2.6"/><circle cx="505.1" cy="1027.9" r="1.6"/><circle cx="401.6" cy="991.2" r="2.1"/><circle cx="451.2" cy="1037.6" r="2.4"/><circle cx="474.1" cy="1026.4" r="2.2"/><circle cx="480.1" cy="1064.2" r="1.6"/><circle cx="475.8" cy="1086.7" r="2.2"/><circle cx="502.8" cy="1019.2" r="1.9"/><circle cx="408.2" cy="1038.1" r="1.3"/><circle cx="385.7" cy="884.8" r="1.7"/><circle cx="375.9" cy="890.6" r="1.7"/><circle cx="338.6" cy="960.6" r="2.1"/><circle cx="301.9" cy="874.6" r="1.7"/><circle cx="334.2" cy="904.1" r="2.1"/><circle cx="423.7" cy="905.9" r="2.2"/><circle cx="362.0" cy="994.1" r="1.5"/><circle cx="399.2" cy="905.1" r="1.5"/><circle cx="409.0" cy="985.3" r="2.2"/><circle cx="449.5" cy="1009.9" r="1.9"/><circle cx="328.3" cy="887.7" r="1.5"/><circle cx="364.2" cy="915.6" r="1.5"/><circle cx="352.1" cy="990.4" r="2.5"/><circle cx="478.5" cy="1068.6" r="2.1"/><circle cx="502.3" cy="1004.6" r="1.8"/><circle cx="412.5" cy="988.0" r="1.6"/><circle cx="361.9" cy="929.5" r="2.6"/><circle cx="395.9" cy="1039.5" r="2.2"/><circle cx="372.4" cy="1031.9" r="2.3"/><circle cx="474.9" cy="1022.9" r="1.8"/><circle cx="428.3" cy="924.0" r="1.7"/><circle cx="376.0" cy="991.8" r="1.8"/><circle cx="379.5" cy="1026.3" r="1.5"/><circle cx="349.9" cy="899.4" r="2.1"/><circle cx="324.7" cy="870.7" r="1.9"/><circle cx="441.7" cy="1037.7" r="2.4"/><circle cx="333.2" cy="954.4" r="1.8"/><circle cx="476.4" cy="1006.2" r="1.9"/><circle cx="328.2" cy="878.8" r="2.0"/><circle cx="382.7" cy="864.8" r="2.5"/><circle cx="405.5" cy="1021.1" r="1.8"/><circle cx="461.2" cy="1068.3" r="2.2"/><circle cx="378.1" cy="935.1" r="1.6"/><circle cx="381.4" cy="1035.4" r="2.1"/><circle cx="508.1" cy="1059.8" r="1.7"/><circle cx="437.9" cy="1010.5" r="2.4"/><circle cx="368.6" cy="1022.0" r="1.7"/><circle cx="405.0" cy="1059.5" r="2.4"/><circle cx="473.9" cy="1011.3" r="2.2"/><circle cx="370.9" cy="981.1" r="1.9"/><circle cx="450.0" cy="1072.3" r="2.5"/><circle cx="430.7" cy="898.8" r="1.8"/><circle cx="419.7" cy="1034.6" r="2.3"/><circle cx="372.7" cy="970.9" r="2.1"/></g><g fill="#ff5a9a" fill-opacity="0.8"><circle cx="195.2" cy="997.5" r="1.7"/><circle cx="198.8" cy="916.9" r="1.3"/><circle cx="253.3" cy="1008.6" r="1.7"/><circle cx="131.1" cy="1001.0" r="1.5"/><circle cx="256.1" cy="895.5" r="1.7"/><circle cx="219.6" cy="928.7" r="2.3"/><circle cx="222.3" cy="1045.6" r="1.6"/><circle cx="160.9" cy="1006.0" r="2.0"/><circle cx="122.3" cy="972.3" r="2.0"/><circle cx="110.3" cy="950.1" r="1.5"/><circle cx="200.7" cy="892.2" r="1.7"/><circle cx="190.2" cy="916.7" r="1.4"/><circle cx="200.4" cy="935.3" r="2.3"/><circle cx="222.3" cy="884.4" r="1.5"/><circle cx="179.6" cy="956.9" r="1.7"/><circle cx="212.2" cy="1032.5" r="1.6"/><circle cx="166.7" cy="963.0" r="2.2"/><circle cx="200.0" cy="1091.2" r="2.2"/><circle cx="191.5" cy="987.8" r="1.9"/><circle cx="171.6" cy="1091.0" r="1.9"/><circle cx="235.2" cy="1007.5" r="1.3"/><circle cx="239.4" cy="927.9" r="2.3"/><circle cx="106.4" cy="966.6" r="1.3"/><circle cx="186.6" cy="952.9" r="1.6"/><circle cx="91.0" cy="1034.0" r="1.6"/><circle cx="191.6" cy="910.0" r="2.1"/><circle cx="144.9" cy="952.6" r="2.0"/><circle cx="169.3" cy="1064.0" r="1.6"/><circle cx="127.0" cy="1048.1" r="2.3"/><circle cx="200.2" cy="1090.7" r="2.3"/><circle cx="100.9" cy="1060.5" r="1.2"/><circle cx="106.2" cy="991.2" r="2.0"/><circle cx="131.7" cy="926.4" r="1.8"/><circle cx="164.2" cy="942.0" r="1.6"/><circle cx="145.3" cy="980.6" r="1.8"/><circle cx="180.2" cy="901.2" r="1.6"/><circle cx="270.1" cy="898.2" r="2.0"/><circle cx="257.6" cy="941.3" r="1.9"/><circle cx="180.2" cy="891.8" r="2.4"/><circle cx="122.8" cy="1017.0" r="2.4"/><circle cx="233.9" cy="930.1" r="2.4"/><circle cx="231.2" cy="881.7" r="1.7"/><circle cx="127.3" cy="928.5" r="2.2"/><circle cx="230.6" cy="898.4" r="2.0"/><circle cx="118.4" cy="909.0" r="2.0"/><circle cx="220.9" cy="1060.0" r="2.4"/><circle cx="159.0" cy="1025.1" r="1.3"/><circle cx="128.5" cy="926.9" r="1.8"/><circle cx="138.7" cy="1019.1" r="1.7"/><circle cx="173.4" cy="988.7" r="2.0"/><circle cx="207.1" cy="922.4" r="1.5"/><circle cx="133.2" cy="1063.5" r="2.4"/><circle cx="240.2" cy="911.9" r="1.5"/><circle cx="139.2" cy="994.1" r="1.6"/><circle cx="177.9" cy="1049.2" r="1.4"/><circle cx="186.0" cy="893.9" r="1.7"/><circle cx="197.9" cy="1020.4" r="2.1"/><circle cx="156.2" cy="1024.0" r="1.3"/><circle cx="246.0" cy="985.6" r="1.4"/><circle cx="187.2" cy="1074.9" r="2.0"/><circle cx="225.1" cy="986.6" r="1.9"/><circle cx="245.3" cy="889.9" r="2.1"/><circle cx="208.9" cy="909.0" r="1.5"/><circle cx="173.4" cy="1055.3" r="2.2"/><circle cx="130.0" cy="978.0" r="2.1"/><circle cx="126.9" cy="1002.8" r="2.1"/><circle cx="206.5" cy="1039.4" r="1.3"/><circle cx="201.4" cy="1082.4" r="1.8"/><circle cx="172.1" cy="965.1" r="1.2"/><circle cx="135.7" cy="1062.2" r="2.2"/><circle cx="418.0" cy="992.8" r="2.3"/><circle cx="429.4" cy="987.9" r="2.3"/><circle cx="475.1" cy="1059.0" r="1.2"/><circle cx="373.4" cy="903.8" r="1.6"/><circle cx="400.7" cy="1052.1" r="1.8"/><circle cx="393.3" cy="1047.6" r="1.8"/><circle cx="379.7" cy="926.1" r="1.3"/><circle cx="386.5" cy="865.8" r="2.1"/><circle cx="460.4" cy="1044.7" r="1.6"/><circle cx="344.1" cy="913.9" r="1.8"/><circle cx="414.3" cy="910.7" r="1.3"/><circle cx="373.4" cy="936.7" r="1.9"/><circle cx="507.9" cy="1011.2" r="1.4"/><circle cx="482.4" cy="1005.7" r="1.3"/><circle cx="329.7" cy="900.4" r="1.8"/><circle cx="340.8" cy="972.2" r="1.6"/><circle cx="361.3" cy="966.6" r="2.1"/><circle cx="510.5" cy="1029.7" r="1.5"/><circle cx="377.5" cy="864.8" r="1.7"/><circle cx="372.7" cy="886.8" r="1.3"/><circle cx="460.9" cy="1041.8" r="1.5"/><circle cx="379.9" cy="909.8" r="1.7"/><circle cx="302.9" cy="886.0" r="1.9"/><circle cx="362.1" cy="960.3" r="1.8"/><circle cx="412.6" cy="882.0" r="2.2"/><circle cx="452.2" cy="1026.2" r="1.3"/><circle cx="326.1" cy="900.7" r="2.2"/><circle cx="417.4" cy="1065.0" r="1.4"/><circle cx="440.2" cy="1095.0" r="2.4"/><circle cx="365.5" cy="980.2" r="1.8"/><circle cx="355.0" cy="888.1" r="1.7"/><circle cx="381.7" cy="974.3" r="1.9"/><circle cx="346.3" cy="870.3" r="2.2"/><circle cx="368.5" cy="959.9" r="2.4"/><circle cx="446.9" cy="995.5" r="1.7"/><circle cx="365.0" cy="913.9" r="1.2"/><circle cx="488.4" cy="998.9" r="1.4"/><circle cx="334.5" cy="972.6" r="2.2"/><circle cx="373.1" cy="1001.7" r="2.1"/><circle cx="499.4" cy="1054.8" r="2.1"/><circle cx="430.8" cy="1013.9" r="1.4"/><circle cx="336.0" cy="907.2" r="1.8"/><circle cx="379.9" cy="910.1" r="1.2"/><circle cx="401.6" cy="1021.8" r="1.3"/><circle cx="413.5" cy="1014.8" r="1.6"/><circle cx="416.2" cy="1071.1" r="2.4"/><circle cx="445.6" cy="1031.7" r="2.0"/><circle cx="504.1" cy="1069.2" r="2.2"/><circle cx="401.0" cy="998.4" r="1.3"/><circle cx="374.6" cy="922.7" r="1.7"/><circle cx="345.7" cy="912.8" r="1.3"/><circle cx="364.8" cy="893.4" r="1.5"/><circle cx="406.0" cy="879.3" r="1.3"/><circle cx="307.8" cy="863.7" r="2.3"/><circle cx="349.3" cy="983.0" r="1.6"/><circle cx="477.7" cy="1070.4" r="1.8"/><circle cx="448.1" cy="1014.5" r="2.0"/><circle cx="475.2" cy="1062.9" r="2.3"/><circle cx="497.5" cy="1114.0" r="2.3"/><circle cx="375.4" cy="929.1" r="1.9"/><circle cx="468.5" cy="1073.1" r="1.8"/><circle cx="355.9" cy="951.5" r="2.3"/><circle cx="428.7" cy="1053.2" r="1.7"/><circle cx="445.3" cy="993.5" r="1.6"/><circle cx="332.2" cy="874.1" r="2.1"/><circle cx="400.4" cy="877.7" r="1.5"/><circle cx="417.4" cy="884.1" r="1.6"/><circle cx="430.3" cy="919.5" r="1.7"/><circle cx="343.6" cy="976.2" r="1.8"/><circle cx="373.8" cy="915.6" r="1.6"/></g></g>
 </g>
 <g filter="url(#bl2)" fill="#5a38ff" opacity="0.85"><circle cx="139.6" cy="866.4" r="2.7"/><circle cx="151.2" cy="909.8" r="3.6"/><circle cx="244" cy="883" r="3.6"/><circle cx="243" cy="893" r="2.7"/><circle cx="267" cy="896" r="3.6"/><circle cx="273" cy="919" r="3.6"/><circle cx="95" cy="1011.4" r="3.6"/><circle cx="122.6" cy="1067.5" r="3.6"/><circle cx="182" cy="1104.5" r="3.6"/><circle cx="165" cy="940" r="2.7"/><circle cx="190" cy="955" r="2.7"/><circle cx="120" cy="995" r="2.7"/><circle cx="230" cy="1000" r="2.7"/></g>
</g>
<g clip-path="url(#cR)">
 <g mask="url(#mT)">
  <rect x="290" y="838" width="225" height="285" filter="url(#texD)"/>
  <rect x="290" y="838" width="225" height="285" filter="url(#texF)"/>
  <g filter="url(#bl1)"><g fill="#6a40ff"><circle cx="175.9" cy="997.3" r="1.4"/><circle cx="187.7" cy="1004.8" r="1.4"/><circle cx="119.1" cy="984.2" r="2.5"/><circle cx="213.5" cy="1060.7" r="1.7"/><circle cx="218.6" cy="1012.4" r="1.4"/><circle cx="120.3" cy="910.8" r="1.5"/><circle cx="173.4" cy="1074.1" r="1.9"/><circle cx="190.1" cy="1019.2" r="2.6"/><circle cx="186.0" cy="1025.2" r="1.6"/><circle cx="177.0" cy="920.7" r="2.4"/><circle cx="146.8" cy="907.5" r="1.9"/><circle cx="242.5" cy="953.9" r="1.8"/><circle cx="259.5" cy="950.1" r="2.3"/><circle cx="95.5" cy="1016.2" r="1.8"/><circle cx="245.0" cy="918.4" r="1.4"/><circle cx="249.0" cy="893.3" r="2.0"/><circle cx="198.6" cy="966.7" r="2.2"/><circle cx="120.4" cy="1044.1" r="2.1"/><circle cx="107.8" cy="1020.1" r="1.7"/><circle cx="104.7" cy="959.4" r="2.5"/><circle cx="125.1" cy="918.4" r="2.4"/><circle cx="124.7" cy="952.2" r="2.6"/><circle cx="125.2" cy="915.3" r="1.9"/><circle cx="243.8" cy="934.5" r="2.4"/><circle cx="99.1" cy="1003.5" r="2.2"/><circle cx="131.5" cy="1008.5" r="1.5"/><circle cx="158.8" cy="968.3" r="1.3"/><circle cx="201.8" cy="1080.7" r="1.5"/><circle cx="132.9" cy="896.6" r="1.5"/><circle cx="169.3" cy="873.2" r="1.4"/><circle cx="130.5" cy="1036.6" r="1.8"/><circle cx="134.5" cy="1069.1" r="2.3"/><circle cx="206.5" cy="924.8" r="1.7"/><circle cx="117.2" cy="1040.9" r="2.0"/><circle cx="198.6" cy="1076.9" r="1.3"/><circle cx="210.2" cy="921.2" r="1.6"/><circle cx="117.4" cy="945.3" r="2.5"/><circle cx="201.3" cy="880.8" r="1.3"/><circle cx="156.8" cy="1087.3" r="2.0"/><circle cx="226.5" cy="1004.0" r="2.4"/><circle cx="182.2" cy="1043.7" r="2.3"/><circle cx="96.0" cy="993.5" r="2.3"/><circle cx="236.3" cy="1036.4" r="1.8"/><circle cx="154.6" cy="1031.4" r="2.3"/><circle cx="168.4" cy="1060.0" r="2.4"/><circle cx="212.5" cy="949.0" r="2.3"/><circle cx="203.5" cy="1010.6" r="2.6"/><circle cx="97.0" cy="1018.9" r="1.4"/><circle cx="234.4" cy="950.7" r="2.5"/><circle cx="235.8" cy="1003.0" r="1.8"/><circle cx="173.4" cy="1073.0" r="2.2"/><circle cx="97.8" cy="1049.1" r="1.6"/><circle cx="182.0" cy="907.6" r="2.5"/><circle cx="228.0" cy="980.3" r="1.3"/><circle cx="143.8" cy="1029.5" r="2.0"/><circle cx="173.7" cy="1087.5" r="1.6"/><circle cx="149.3" cy="1026.1" r="1.8"/><circle cx="122.1" cy="962.2" r="1.8"/><circle cx="266.6" cy="949.6" r="2.2"/><circle cx="203.6" cy="931.1" r="2.4"/><circle cx="108.9" cy="980.0" r="1.8"/><circle cx="138.7" cy="891.0" r="2.1"/><circle cx="175.5" cy="919.8" r="1.8"/><circle cx="125.4" cy="957.6" r="1.7"/><circle cx="212.7" cy="979.3" r="2.5"/><circle cx="146.9" cy="1073.2" r="1.7"/><circle cx="230.2" cy="1000.2" r="1.4"/><circle cx="145.5" cy="1060.3" r="1.7"/><circle cx="255.9" cy="909.6" r="2.3"/><circle cx="213.4" cy="966.4" r="1.6"/><circle cx="213.6" cy="1023.2" r="2.3"/><circle cx="225.1" cy="899.2" r="2.0"/><circle cx="180.7" cy="893.6" r="2.2"/><circle cx="231.4" cy="893.7" r="1.5"/><circle cx="137.7" cy="939.0" r="1.4"/><circle cx="227.8" cy="986.6" r="1.5"/><circle cx="210.3" cy="1050.7" r="1.8"/><circle cx="163.4" cy="1060.4" r="1.9"/><circle cx="107.5" cy="968.4" r="1.3"/><circle cx="159.9" cy="999.7" r="2.0"/><circle cx="218.1" cy="900.7" r="1.8"/><circle cx="216.0" cy="1040.2" r="1.7"/><circle cx="193.8" cy="1060.1" r="2.0"/><circle cx="261.4" cy="939.8" r="2.5"/><circle cx="97.5" cy="964.9" r="1.6"/><circle cx="196.7" cy="1054.0" r="2.4"/><circle cx="249.6" cy="892.0" r="1.7"/><circle cx="151.0" cy="1059.3" r="2.3"/><circle cx="189.5" cy="1041.8" r="1.4"/><circle cx="126.9" cy="988.3" r="2.6"/><circle cx="141.5" cy="1043.2" r="1.9"/><circle cx="215.4" cy="987.2" r="2.6"/><circle cx="258.8" cy="997.3" r="1.6"/><circle cx="146.1" cy="948.7" r="1.8"/><circle cx="201.5" cy="899.7" r="2.2"/><circle cx="193.6" cy="981.9" r="1.5"/><circle cx="164.9" cy="1062.9" r="1.7"/><circle cx="199.3" cy="978.6" r="2.2"/><circle cx="194.2" cy="957.5" r="2.5"/><circle cx="137.1" cy="973.7" r="1.7"/><circle cx="106.9" cy="963.0" r="1.5"/><circle cx="181.0" cy="931.3" r="1.8"/><circle cx="120.6" cy="1013.1" r="2.6"/><circle cx="121.2" cy="906.8" r="1.5"/><circle cx="225.7" cy="932.6" r="2.1"/><circle cx="155.3" cy="1013.6" r="1.8"/><circle cx="102.2" cy="1043.8" r="2.1"/><circle cx="106.0" cy="983.8" r="1.6"/><circle cx="133.1" cy="898.8" r="2.1"/><circle cx="192.4" cy="963.8" r="2.5"/><circle cx="409.4" cy="888.4" r="2.4"/><circle cx="433.2" cy="989.1" r="2.1"/><circle cx="479.6" cy="1011.4" r="2.0"/><circle cx="455.5" cy="1065.5" r="2.0"/><circle cx="350.6" cy="871.4" r="1.4"/><circle cx="381.8" cy="1031.4" r="2.4"/><circle cx="442.8" cy="1092.9" r="2.2"/><circle cx="404.2" cy="1051.2" r="1.9"/><circle cx="403.6" cy="1031.5" r="2.2"/><circle cx="335.2" cy="864.2" r="1.8"/><circle cx="414.3" cy="985.0" r="1.8"/><circle cx="418.0" cy="884.9" r="1.6"/><circle cx="334.2" cy="900.5" r="2.1"/><circle cx="477.2" cy="1114.4" r="2.0"/><circle cx="394.7" cy="1053.0" r="2.0"/><circle cx="365.2" cy="972.0" r="1.3"/><circle cx="446.8" cy="1074.6" r="2.1"/><circle cx="333.5" cy="968.5" r="1.9"/><circle cx="336.5" cy="889.9" r="2.1"/><circle cx="488.7" cy="1063.1" r="2.1"/><circle cx="447.6" cy="1079.1" r="2.5"/><circle cx="508.2" cy="1063.9" r="1.5"/><circle cx="456.3" cy="1056.6" r="1.9"/><circle cx="489.4" cy="1084.3" r="2.6"/><circle cx="445.5" cy="1053.7" r="2.3"/><circle cx="368.5" cy="972.5" r="1.7"/><circle cx="433.2" cy="1014.7" r="2.3"/><circle cx="437.8" cy="999.9" r="2.6"/><circle cx="512.0" cy="1019.7" r="1.8"/><circle cx="446.9" cy="1052.2" r="2.4"/><circle cx="428.2" cy="1046.0" r="1.5"/><circle cx="349.9" cy="954.2" r="2.6"/><circle cx="305.0" cy="898.2" r="1.9"/><circle cx="375.9" cy="871.8" r="1.6"/><circle cx="510.9" cy="1018.5" r="2.4"/><circle cx="424.3" cy="1051.5" r="2.1"/><circle cx="408.8" cy="1007.6" r="2.5"/><circle cx="373.7" cy="922.7" r="2.4"/><circle cx="436.8" cy="997.5" r="2.3"/><circle cx="509.6" cy="1101.9" r="2.0"/><circle cx="387.6" cy="974.9" r="2.6"/><circle cx="507.4" cy="1067.1" r="1.4"/><circle cx="425.6" cy="876.3" r="2.4"/><circle cx="338.4" cy="859.2" r="2.2"/><circle cx="409.1" cy="878.8" r="1.6"/><circle cx="390.5" cy="1026.7" r="2.3"/><circle cx="393.3" cy="916.3" r="1.9"/><circle cx="511.5" cy="1104.1" r="2.0"/><circle cx="465.0" cy="1015.0" r="2.4"/><circle cx="372.3" cy="918.9" r="1.6"/><circle cx="443.3" cy="998.7" r="1.7"/><circle cx="423.0" cy="1017.2" r="2.1"/><circle cx="493.6" cy="1084.0" r="1.4"/><circle cx="353.1" cy="960.7" r="2.0"/><circle cx="414.0" cy="1016.7" r="2.3"/><circle cx="375.4" cy="975.2" r="1.9"/><circle cx="456.4" cy="1073.1" r="1.6"/><circle cx="310.2" cy="877.6" r="2.3"/><circle cx="470.4" cy="1014.7" r="2.4"/><circle cx="386.5" cy="915.2" r="2.3"/><circle cx="364.9" cy="994.2" r="2.0"/><circle cx="456.7" cy="1095.5" r="2.5"/><circle cx="311.1" cy="867.6" r="2.3"/><circle cx="452.0" cy="1033.8" r="1.5"/><circle cx="355.7" cy="883.9" r="1.8"/><circle cx="373.9" cy="876.9" r="1.4"/><circle cx="448.6" cy="999.8" r="1.3"/><circle cx="494.2" cy="1100.7" r="1.7"/><circle cx="363.2" cy="953.7" r="2.4"/><circle cx="497.8" cy="1088.4" r="2.4"/><circle cx="476.3" cy="998.1" r="1.5"/><circle cx="412.6" cy="999.3" r="1.5"/><circle cx="504.7" cy="1022.1" r="1.8"/><circle cx="413.2" cy="1059.4" r="2.4"/><circle cx="312.3" cy="867.2" r="2.1"/><circle cx="454.7" cy="1089.5" r="2.5"/><circle cx="407.7" cy="1053.0" r="1.4"/><circle cx="380.0" cy="936.9" r="2.6"/><circle cx="505.1" cy="1027.9" r="1.6"/><circle cx="401.6" cy="991.2" r="2.1"/><circle cx="451.2" cy="1037.6" r="2.4"/><circle cx="474.1" cy="1026.4" r="2.2"/><circle cx="480.1" cy="1064.2" r="1.6"/><circle cx="475.8" cy="1086.7" r="2.2"/><circle cx="502.8" cy="1019.2" r="1.9"/><circle cx="408.2" cy="1038.1" r="1.3"/><circle cx="385.7" cy="884.8" r="1.7"/><circle cx="375.9" cy="890.6" r="1.7"/><circle cx="338.6" cy="960.6" r="2.1"/><circle cx="301.9" cy="874.6" r="1.7"/><circle cx="334.2" cy="904.1" r="2.1"/><circle cx="423.7" cy="905.9" r="2.2"/><circle cx="362.0" cy="994.1" r="1.5"/><circle cx="399.2" cy="905.1" r="1.5"/><circle cx="409.0" cy="985.3" r="2.2"/><circle cx="449.5" cy="1009.9" r="1.9"/><circle cx="328.3" cy="887.7" r="1.5"/><circle cx="364.2" cy="915.6" r="1.5"/><circle cx="352.1" cy="990.4" r="2.5"/><circle cx="478.5" cy="1068.6" r="2.1"/><circle cx="502.3" cy="1004.6" r="1.8"/><circle cx="412.5" cy="988.0" r="1.6"/><circle cx="361.9" cy="929.5" r="2.6"/><circle cx="395.9" cy="1039.5" r="2.2"/><circle cx="372.4" cy="1031.9" r="2.3"/><circle cx="474.9" cy="1022.9" r="1.8"/><circle cx="428.3" cy="924.0" r="1.7"/><circle cx="376.0" cy="991.8" r="1.8"/><circle cx="379.5" cy="1026.3" r="1.5"/><circle cx="349.9" cy="899.4" r="2.1"/><circle cx="324.7" cy="870.7" r="1.9"/><circle cx="441.7" cy="1037.7" r="2.4"/><circle cx="333.2" cy="954.4" r="1.8"/><circle cx="476.4" cy="1006.2" r="1.9"/><circle cx="328.2" cy="878.8" r="2.0"/><circle cx="382.7" cy="864.8" r="2.5"/><circle cx="405.5" cy="1021.1" r="1.8"/><circle cx="461.2" cy="1068.3" r="2.2"/><circle cx="378.1" cy="935.1" r="1.6"/><circle cx="381.4" cy="1035.4" r="2.1"/><circle cx="508.1" cy="1059.8" r="1.7"/><circle cx="437.9" cy="1010.5" r="2.4"/><circle cx="368.6" cy="1022.0" r="1.7"/><circle cx="405.0" cy="1059.5" r="2.4"/><circle cx="473.9" cy="1011.3" r="2.2"/><circle cx="370.9" cy="981.1" r="1.9"/><circle cx="450.0" cy="1072.3" r="2.5"/><circle cx="430.7" cy="898.8" r="1.8"/><circle cx="419.7" cy="1034.6" r="2.3"/><circle cx="372.7" cy="970.9" r="2.1"/></g><g fill="#ff5a9a" fill-opacity="0.8"><circle cx="195.2" cy="997.5" r="1.7"/><circle cx="198.8" cy="916.9" r="1.3"/><circle cx="253.3" cy="1008.6" r="1.7"/><circle cx="131.1" cy="1001.0" r="1.5"/><circle cx="256.1" cy="895.5" r="1.7"/><circle cx="219.6" cy="928.7" r="2.3"/><circle cx="222.3" cy="1045.6" r="1.6"/><circle cx="160.9" cy="1006.0" r="2.0"/><circle cx="122.3" cy="972.3" r="2.0"/><circle cx="110.3" cy="950.1" r="1.5"/><circle cx="200.7" cy="892.2" r="1.7"/><circle cx="190.2" cy="916.7" r="1.4"/><circle cx="200.4" cy="935.3" r="2.3"/><circle cx="222.3" cy="884.4" r="1.5"/><circle cx="179.6" cy="956.9" r="1.7"/><circle cx="212.2" cy="1032.5" r="1.6"/><circle cx="166.7" cy="963.0" r="2.2"/><circle cx="200.0" cy="1091.2" r="2.2"/><circle cx="191.5" cy="987.8" r="1.9"/><circle cx="171.6" cy="1091.0" r="1.9"/><circle cx="235.2" cy="1007.5" r="1.3"/><circle cx="239.4" cy="927.9" r="2.3"/><circle cx="106.4" cy="966.6" r="1.3"/><circle cx="186.6" cy="952.9" r="1.6"/><circle cx="91.0" cy="1034.0" r="1.6"/><circle cx="191.6" cy="910.0" r="2.1"/><circle cx="144.9" cy="952.6" r="2.0"/><circle cx="169.3" cy="1064.0" r="1.6"/><circle cx="127.0" cy="1048.1" r="2.3"/><circle cx="200.2" cy="1090.7" r="2.3"/><circle cx="100.9" cy="1060.5" r="1.2"/><circle cx="106.2" cy="991.2" r="2.0"/><circle cx="131.7" cy="926.4" r="1.8"/><circle cx="164.2" cy="942.0" r="1.6"/><circle cx="145.3" cy="980.6" r="1.8"/><circle cx="180.2" cy="901.2" r="1.6"/><circle cx="270.1" cy="898.2" r="2.0"/><circle cx="257.6" cy="941.3" r="1.9"/><circle cx="180.2" cy="891.8" r="2.4"/><circle cx="122.8" cy="1017.0" r="2.4"/><circle cx="233.9" cy="930.1" r="2.4"/><circle cx="231.2" cy="881.7" r="1.7"/><circle cx="127.3" cy="928.5" r="2.2"/><circle cx="230.6" cy="898.4" r="2.0"/><circle cx="118.4" cy="909.0" r="2.0"/><circle cx="220.9" cy="1060.0" r="2.4"/><circle cx="159.0" cy="1025.1" r="1.3"/><circle cx="128.5" cy="926.9" r="1.8"/><circle cx="138.7" cy="1019.1" r="1.7"/><circle cx="173.4" cy="988.7" r="2.0"/><circle cx="207.1" cy="922.4" r="1.5"/><circle cx="133.2" cy="1063.5" r="2.4"/><circle cx="240.2" cy="911.9" r="1.5"/><circle cx="139.2" cy="994.1" r="1.6"/><circle cx="177.9" cy="1049.2" r="1.4"/><circle cx="186.0" cy="893.9" r="1.7"/><circle cx="197.9" cy="1020.4" r="2.1"/><circle cx="156.2" cy="1024.0" r="1.3"/><circle cx="246.0" cy="985.6" r="1.4"/><circle cx="187.2" cy="1074.9" r="2.0"/><circle cx="225.1" cy="986.6" r="1.9"/><circle cx="245.3" cy="889.9" r="2.1"/><circle cx="208.9" cy="909.0" r="1.5"/><circle cx="173.4" cy="1055.3" r="2.2"/><circle cx="130.0" cy="978.0" r="2.1"/><circle cx="126.9" cy="1002.8" r="2.1"/><circle cx="206.5" cy="1039.4" r="1.3"/><circle cx="201.4" cy="1082.4" r="1.8"/><circle cx="172.1" cy="965.1" r="1.2"/><circle cx="135.7" cy="1062.2" r="2.2"/><circle cx="418.0" cy="992.8" r="2.3"/><circle cx="429.4" cy="987.9" r="2.3"/><circle cx="475.1" cy="1059.0" r="1.2"/><circle cx="373.4" cy="903.8" r="1.6"/><circle cx="400.7" cy="1052.1" r="1.8"/><circle cx="393.3" cy="1047.6" r="1.8"/><circle cx="379.7" cy="926.1" r="1.3"/><circle cx="386.5" cy="865.8" r="2.1"/><circle cx="460.4" cy="1044.7" r="1.6"/><circle cx="344.1" cy="913.9" r="1.8"/><circle cx="414.3" cy="910.7" r="1.3"/><circle cx="373.4" cy="936.7" r="1.9"/><circle cx="507.9" cy="1011.2" r="1.4"/><circle cx="482.4" cy="1005.7" r="1.3"/><circle cx="329.7" cy="900.4" r="1.8"/><circle cx="340.8" cy="972.2" r="1.6"/><circle cx="361.3" cy="966.6" r="2.1"/><circle cx="510.5" cy="1029.7" r="1.5"/><circle cx="377.5" cy="864.8" r="1.7"/><circle cx="372.7" cy="886.8" r="1.3"/><circle cx="460.9" cy="1041.8" r="1.5"/><circle cx="379.9" cy="909.8" r="1.7"/><circle cx="302.9" cy="886.0" r="1.9"/><circle cx="362.1" cy="960.3" r="1.8"/><circle cx="412.6" cy="882.0" r="2.2"/><circle cx="452.2" cy="1026.2" r="1.3"/><circle cx="326.1" cy="900.7" r="2.2"/><circle cx="417.4" cy="1065.0" r="1.4"/><circle cx="440.2" cy="1095.0" r="2.4"/><circle cx="365.5" cy="980.2" r="1.8"/><circle cx="355.0" cy="888.1" r="1.7"/><circle cx="381.7" cy="974.3" r="1.9"/><circle cx="346.3" cy="870.3" r="2.2"/><circle cx="368.5" cy="959.9" r="2.4"/><circle cx="446.9" cy="995.5" r="1.7"/><circle cx="365.0" cy="913.9" r="1.2"/><circle cx="488.4" cy="998.9" r="1.4"/><circle cx="334.5" cy="972.6" r="2.2"/><circle cx="373.1" cy="1001.7" r="2.1"/><circle cx="499.4" cy="1054.8" r="2.1"/><circle cx="430.8" cy="1013.9" r="1.4"/><circle cx="336.0" cy="907.2" r="1.8"/><circle cx="379.9" cy="910.1" r="1.2"/><circle cx="401.6" cy="1021.8" r="1.3"/><circle cx="413.5" cy="1014.8" r="1.6"/><circle cx="416.2" cy="1071.1" r="2.4"/><circle cx="445.6" cy="1031.7" r="2.0"/><circle cx="504.1" cy="1069.2" r="2.2"/><circle cx="401.0" cy="998.4" r="1.3"/><circle cx="374.6" cy="922.7" r="1.7"/><circle cx="345.7" cy="912.8" r="1.3"/><circle cx="364.8" cy="893.4" r="1.5"/><circle cx="406.0" cy="879.3" r="1.3"/><circle cx="307.8" cy="863.7" r="2.3"/><circle cx="349.3" cy="983.0" r="1.6"/><circle cx="477.7" cy="1070.4" r="1.8"/><circle cx="448.1" cy="1014.5" r="2.0"/><circle cx="475.2" cy="1062.9" r="2.3"/><circle cx="497.5" cy="1114.0" r="2.3"/><circle cx="375.4" cy="929.1" r="1.9"/><circle cx="468.5" cy="1073.1" r="1.8"/><circle cx="355.9" cy="951.5" r="2.3"/><circle cx="428.7" cy="1053.2" r="1.7"/><circle cx="445.3" cy="993.5" r="1.6"/><circle cx="332.2" cy="874.1" r="2.1"/><circle cx="400.4" cy="877.7" r="1.5"/><circle cx="417.4" cy="884.1" r="1.6"/><circle cx="430.3" cy="919.5" r="1.7"/><circle cx="343.6" cy="976.2" r="1.8"/><circle cx="373.8" cy="915.6" r="1.6"/></g></g>
 </g>
 <g filter="url(#bl2)" fill="#5a38ff" opacity="0.85"><ellipse cx="301.4" cy="865" rx="3.6" ry="3.6"/><ellipse cx="389.4" cy="869.4" rx="11.2" ry="6.3"/><ellipse cx="376.9" cy="932.2" rx="5.4" ry="5.4"/><ellipse cx="393.6" cy="1007.7" rx="5.4" ry="5.4"/><ellipse cx="431.4" cy="1016" rx="5.4" ry="5.4"/><ellipse cx="427" cy="1062" rx="11.2" ry="6.3"/><ellipse cx="490" cy="1091.6" rx="4.5" ry="4.5"/><ellipse cx="452" cy="1070.6" rx="4.5" ry="4.5"/><ellipse cx="347" cy="887.6" rx="3.6" ry="3.6"/><ellipse cx="343.7" cy="902.4" rx="3.6" ry="3.6"/><ellipse cx="419" cy="871.7" rx="4.5" ry="4.5"/><ellipse cx="501" cy="1010" rx="4.5" ry="4.5"/></g>
</g>
<g mask="url(#mHot)">
  <rect x="74.5" y="841" width="217.1" height="276.2" filter="url(#texO)"/>
  <rect x="74.5" y="841" width="217.1" height="276.2" filter="url(#texP)"/>
  <rect x="294" y="841.5" width="216.3" height="275.7" filter="url(#texO)"/>
  <rect x="294" y="841.5" width="216.3" height="275.7" filter="url(#texP)"/>
  <g filter="url(#bl2)" opacity="0.7"><ellipse cx="143.2" cy="888.2" rx="4.5" ry="3.8" fill="#ff5a30"/><ellipse cx="126.4" cy="911.3" rx="6.8" ry="6.8" fill="#ff3a90"/><ellipse cx="118" cy="930" rx="3.0" ry="3.0" fill="#ff5a30"/><ellipse cx="141" cy="944.8" rx="9.0" ry="6.0" fill="#ff3a90"/><ellipse cx="124.3" cy="965.8" rx="3.0" ry="3.0" fill="#ff5a30"/><ellipse cx="199.8" cy="909.2" rx="5.2" ry="5.2" fill="#ff3a90"/><ellipse cx="241.7" cy="915.5" rx="4.5" ry="6.0" fill="#ff3a90"/><ellipse cx="245.9" cy="978.4" rx="7.5" ry="4.5" fill="#ff3050"/><ellipse cx="262.7" cy="970" rx="4.5" ry="4.5" fill="#ff3050"/><ellipse cx="99.2" cy="1016" rx="4.5" ry="4.5" fill="#ff5a30"/><ellipse cx="111.7" cy="1045.4" rx="6.0" ry="4.5" fill="#ff3a90"/><ellipse cx="170.4" cy="1028.7" rx="4.5" ry="6.0" fill="#f040e0"/><ellipse cx="212.4" cy="1041.3" rx="3.8" ry="3.8" fill="#ff3a90"/><ellipse cx="178.8" cy="1087.4" rx="6.0" ry="4.5" fill="#ff3050"/><ellipse cx="174.6" cy="995" rx="3.8" ry="3.8" fill="#ff3a90"/><ellipse cx="208" cy="1016" rx="3.8" ry="3.8" fill="#ff5a30"/><ellipse cx="167" cy="926.7" rx="3.8" ry="3.8" fill="#ff3a90"/><ellipse cx="203" cy="936" rx="3.8" ry="3.0" fill="#ff5a30"/><ellipse cx="227.5" cy="949" rx="3.8" ry="3.8" fill="#ff5a30"/><ellipse cx="186" cy="891" rx="3.0" ry="3.0" fill="#ff3a90"/><ellipse cx="122.6" cy="1049.5" rx="5.2" ry="3.8" fill="#ff5a30"/><ellipse cx="311.9" cy="871.4" rx="3.0" ry="3.0" fill="#ff3a90"/><ellipse cx="332.8" cy="875.6" rx="2.6" ry="2.6" fill="#ff3a90"/><ellipse cx="335" cy="894.5" rx="2.6" ry="2.6" fill="#ff3a90"/><ellipse cx="402" cy="909" rx="6.0" ry="6.0" fill="#ff3050"/><ellipse cx="389.4" cy="923.9" rx="6.0" ry="5.2" fill="#ff5a30"/><ellipse cx="420.9" cy="909.2" rx="3.8" ry="3.8" fill="#f040e0"/><ellipse cx="343.3" cy="965.8" rx="7.5" ry="6.0" fill="#ff3a90"/><ellipse cx="360.1" cy="988.8" rx="6.0" ry="6.0" fill="#ff3a90"/><ellipse cx="397.8" cy="999.3" rx="4.5" ry="4.5" fill="#ff3a90"/><ellipse cx="360" cy="1012" rx="3.0" ry="3.0" fill="#ff3a90"/><ellipse cx="395.7" cy="1037" rx="4.5" ry="4.5" fill="#ff3a90"/><ellipse cx="477.5" cy="1007.7" rx="6.8" ry="5.2" fill="#ff3a90"/><ellipse cx="494" cy="1041" rx="5.2" ry="5.2" fill="#ff3050"/><ellipse cx="486" cy="1079" rx="4.5" ry="4.5" fill="#ff3050"/><ellipse cx="412.5" cy="1028.7" rx="4.5" ry="4.5" fill="#ff5a30"/><ellipse cx="444" cy="1037" rx="3.8" ry="3.8" fill="#ff5a30"/><ellipse cx="439.8" cy="1058" rx="3.8" ry="3.8" fill="#ff3a90"/></g>
</g>

</svg></body></html>
